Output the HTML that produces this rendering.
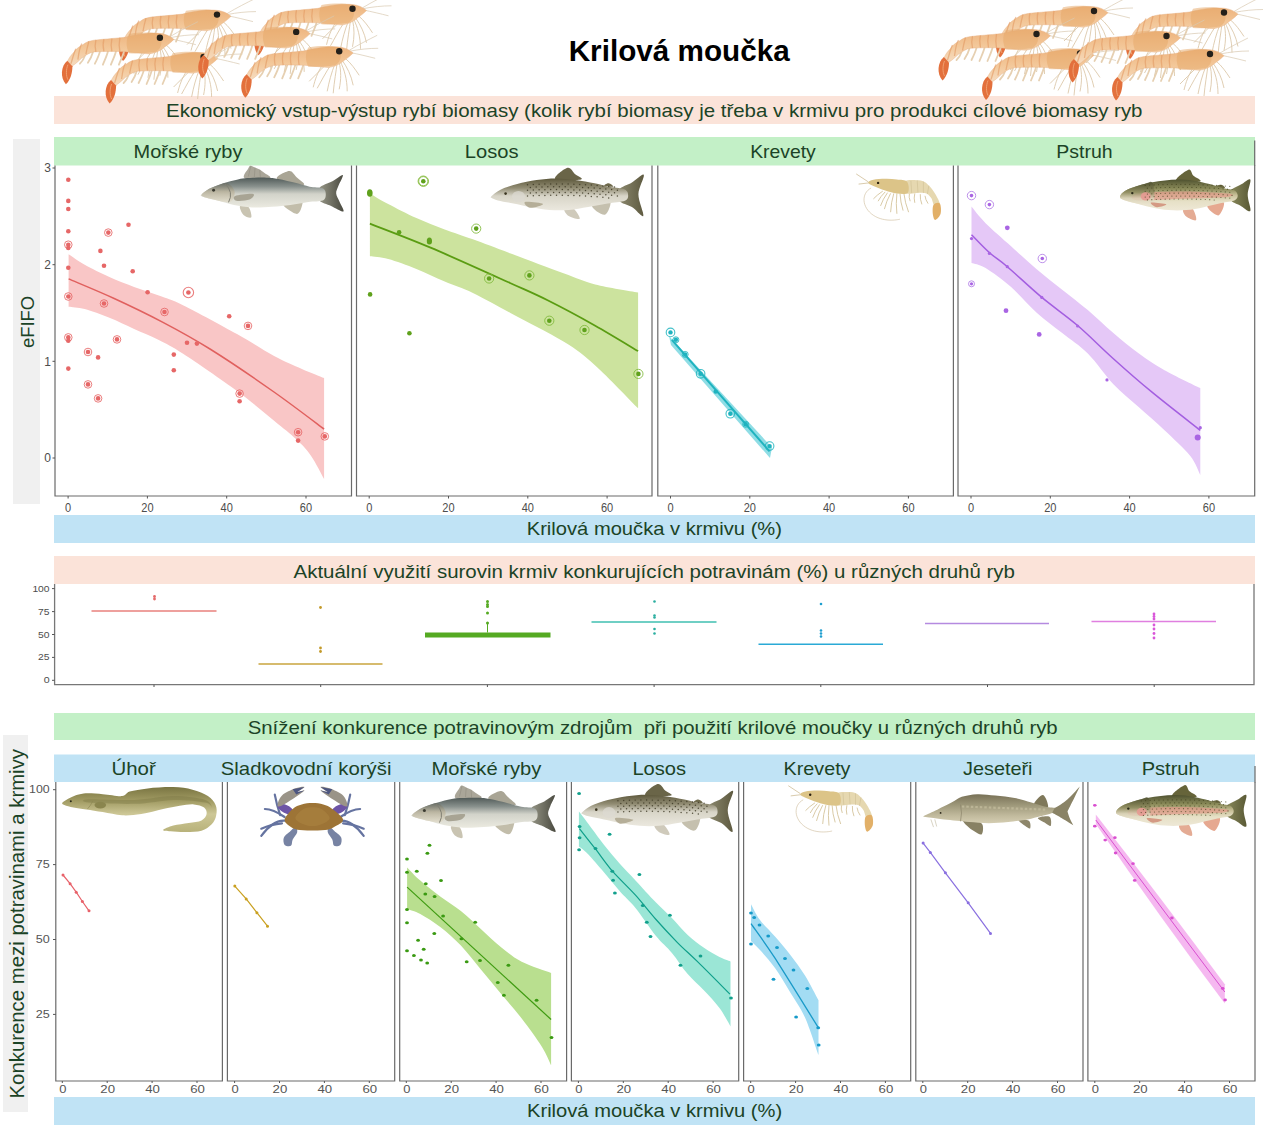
<!DOCTYPE html>
<html><head><meta charset="utf-8">
<style>
html,body{margin:0;padding:0;background:#fff;width:1280px;height:1134px;overflow:hidden}
svg{display:block}
text{font-family:"Liberation Sans",sans-serif}
</style></head><body>
<svg width="1280" height="1134" viewBox="0 0 1280 1134">
<rect x="54" y="96" width="1201" height="28" fill="#fbe3d9"/>
<rect x="54" y="137" width="1201" height="28.5" fill="#c3f0c7"/>
<rect x="13" y="139" width="27" height="365" fill="#f0f0f0"/>
<rect x="54" y="515" width="1201" height="28" fill="#c0e3f5"/>
<rect x="54" y="556" width="1201" height="28" fill="#fbe3d9"/>
<rect x="54" y="713" width="1201" height="27" fill="#c3f0c7"/>
<rect x="54" y="754.5" width="1201" height="27.5" fill="#c0e3f5"/>
<rect x="3" y="735" width="25" height="377" fill="#f0f0f0"/>
<rect x="54" y="1097" width="1201" height="28" fill="#c0e3f5"/>
<g fill="#1b4326">
<text x="568.7" y="61.2" font-size="29.5" font-weight="bold" fill="#000" textLength="221" lengthAdjust="spacingAndGlyphs">Krilová moučka</text>
<text x="166" y="116.6" font-size="18.5" textLength="976.5" lengthAdjust="spacingAndGlyphs">Ekonomický vstup-výstup rybí biomasy (kolik rybí biomasy je třeba v krmivu pro produkci cílové biomasy ryb</text>
<text x="133.6" y="158" font-size="19" textLength="108.8" lengthAdjust="spacingAndGlyphs">Mořské ryby</text>
<text x="464.8" y="158" font-size="19" textLength="53.7" lengthAdjust="spacingAndGlyphs">Losos</text>
<text x="750.2" y="158" font-size="19" textLength="65.6" lengthAdjust="spacingAndGlyphs">Krevety</text>
<text x="1056.3" y="158" font-size="19" textLength="56.3" lengthAdjust="spacingAndGlyphs">Pstruh</text>
<text x="526.7" y="535" font-size="19" textLength="255.3" lengthAdjust="spacingAndGlyphs">Krilová moučka v krmivu (%)</text>
<text x="293.5" y="577.5" font-size="18.5" textLength="721.5" lengthAdjust="spacingAndGlyphs">Aktuální využití surovin krmiv konkurujících potravinám (%) u různých druhů ryb</text>
<text x="247.7" y="733.8" font-size="18.5" textLength="810" lengthAdjust="spacingAndGlyphs" style="white-space:pre">Snížení konkurence potravinovým zdrojům  při použití krilové moučky u různých druhů ryb</text>
<text x="111.5" y="774.8" font-size="19" textLength="44.3" lengthAdjust="spacingAndGlyphs">Úhoř</text>
<text x="220.8" y="774.8" font-size="19" textLength="170.6" lengthAdjust="spacingAndGlyphs">Sladkovodní korýši</text>
<text x="431.6" y="774.8" font-size="19" textLength="109.7" lengthAdjust="spacingAndGlyphs">Mořské ryby</text>
<text x="632.4" y="774.8" font-size="19" textLength="53.7" lengthAdjust="spacingAndGlyphs">Losos</text>
<text x="783.6" y="774.8" font-size="19" textLength="66.9" lengthAdjust="spacingAndGlyphs">Krevety</text>
<text x="963" y="774.8" font-size="19" textLength="69.5" lengthAdjust="spacingAndGlyphs">Jeseteři</text>
<text x="1141.7" y="774.8" font-size="19" textLength="58" lengthAdjust="spacingAndGlyphs">Pstruh</text>
<text x="527" y="1116.8" font-size="19" textLength="255.2" lengthAdjust="spacingAndGlyphs">Krilová moučka v krmivu (%)</text>
<text transform="translate(34,348) rotate(-90)" font-size="18" textLength="52" lengthAdjust="spacingAndGlyphs">eFIFO</text>
<text transform="translate(23.5,1098.5) rotate(-90)" font-size="20" textLength="349.5" lengthAdjust="spacingAndGlyphs">Konkurence mezi potravinami a krmivy</text>
</g>
<g>
<path d="M55,165.5 V496 H351.5 V165.5" fill="none" stroke="#6a6a6a" stroke-width="1.2"/>
<line x1="68.1" y1="496" x2="68.1" y2="498.5" stroke="#555" stroke-width="1"/>
<text x="68.1" y="511.7" font-size="12" fill="#4d4d4d" text-anchor="middle" transform="translate(68.1,0) scale(0.92,1) translate(-68.1,0)">0</text>
<line x1="147.4" y1="496" x2="147.4" y2="498.5" stroke="#555" stroke-width="1"/>
<text x="147.4" y="511.7" font-size="12" fill="#4d4d4d" text-anchor="middle" transform="translate(147.4,0) scale(0.92,1) translate(-147.4,0)">20</text>
<line x1="226.7" y1="496" x2="226.7" y2="498.5" stroke="#555" stroke-width="1"/>
<text x="226.7" y="511.7" font-size="12" fill="#4d4d4d" text-anchor="middle" transform="translate(226.7,0) scale(0.92,1) translate(-226.7,0)">40</text>
<line x1="306.0" y1="496" x2="306.0" y2="498.5" stroke="#555" stroke-width="1"/>
<text x="306.0" y="511.7" font-size="12" fill="#4d4d4d" text-anchor="middle" transform="translate(306.0,0) scale(0.92,1) translate(-306.0,0)">60</text>
<path d="M356.5,165.5 V496 H652 V165.5" fill="none" stroke="#6a6a6a" stroke-width="1.2"/>
<line x1="369.2" y1="496" x2="369.2" y2="498.5" stroke="#555" stroke-width="1"/>
<text x="369.2" y="511.7" font-size="12" fill="#4d4d4d" text-anchor="middle" transform="translate(369.2,0) scale(0.92,1) translate(-369.2,0)">0</text>
<line x1="448.5" y1="496" x2="448.5" y2="498.5" stroke="#555" stroke-width="1"/>
<text x="448.5" y="511.7" font-size="12" fill="#4d4d4d" text-anchor="middle" transform="translate(448.5,0) scale(0.92,1) translate(-448.5,0)">20</text>
<line x1="527.8" y1="496" x2="527.8" y2="498.5" stroke="#555" stroke-width="1"/>
<text x="527.8" y="511.7" font-size="12" fill="#4d4d4d" text-anchor="middle" transform="translate(527.8,0) scale(0.92,1) translate(-527.8,0)">40</text>
<line x1="607.1" y1="496" x2="607.1" y2="498.5" stroke="#555" stroke-width="1"/>
<text x="607.1" y="511.7" font-size="12" fill="#4d4d4d" text-anchor="middle" transform="translate(607.1,0) scale(0.92,1) translate(-607.1,0)">60</text>
<path d="M657.8,165.5 V496 H953.4 V165.5" fill="none" stroke="#6a6a6a" stroke-width="1.2"/>
<line x1="670.5" y1="496" x2="670.5" y2="498.5" stroke="#555" stroke-width="1"/>
<text x="670.5" y="511.7" font-size="12" fill="#4d4d4d" text-anchor="middle" transform="translate(670.5,0) scale(0.92,1) translate(-670.5,0)">0</text>
<line x1="749.8" y1="496" x2="749.8" y2="498.5" stroke="#555" stroke-width="1"/>
<text x="749.8" y="511.7" font-size="12" fill="#4d4d4d" text-anchor="middle" transform="translate(749.8,0) scale(0.92,1) translate(-749.8,0)">20</text>
<line x1="829.1" y1="496" x2="829.1" y2="498.5" stroke="#555" stroke-width="1"/>
<text x="829.1" y="511.7" font-size="12" fill="#4d4d4d" text-anchor="middle" transform="translate(829.1,0) scale(0.92,1) translate(-829.1,0)">40</text>
<line x1="908.4" y1="496" x2="908.4" y2="498.5" stroke="#555" stroke-width="1"/>
<text x="908.4" y="511.7" font-size="12" fill="#4d4d4d" text-anchor="middle" transform="translate(908.4,0) scale(0.92,1) translate(-908.4,0)">60</text>
<path d="M958,165.5 V496 H1254.7 V165.5" fill="none" stroke="#6a6a6a" stroke-width="1.2"/>
<line x1="971.0" y1="496" x2="971.0" y2="498.5" stroke="#555" stroke-width="1"/>
<text x="971.0" y="511.7" font-size="12" fill="#4d4d4d" text-anchor="middle" transform="translate(971.0,0) scale(0.92,1) translate(-971.0,0)">0</text>
<line x1="1050.3" y1="496" x2="1050.3" y2="498.5" stroke="#555" stroke-width="1"/>
<text x="1050.3" y="511.7" font-size="12" fill="#4d4d4d" text-anchor="middle" transform="translate(1050.3,0) scale(0.92,1) translate(-1050.3,0)">20</text>
<line x1="1129.6" y1="496" x2="1129.6" y2="498.5" stroke="#555" stroke-width="1"/>
<text x="1129.6" y="511.7" font-size="12" fill="#4d4d4d" text-anchor="middle" transform="translate(1129.6,0) scale(0.92,1) translate(-1129.6,0)">40</text>
<line x1="1208.9" y1="496" x2="1208.9" y2="498.5" stroke="#555" stroke-width="1"/>
<text x="1208.9" y="511.7" font-size="12" fill="#4d4d4d" text-anchor="middle" transform="translate(1208.9,0) scale(0.92,1) translate(-1208.9,0)">60</text>
<line x1="52.5" y1="458.0" x2="55" y2="458.0" stroke="#555" stroke-width="1"/>
<text x="51" y="462.3" font-size="12" fill="#4d4d4d" text-anchor="end">0</text>
<line x1="52.5" y1="361.3" x2="55" y2="361.3" stroke="#555" stroke-width="1"/>
<text x="51" y="365.6" font-size="12" fill="#4d4d4d" text-anchor="end">1</text>
<line x1="52.5" y1="264.7" x2="55" y2="264.7" stroke="#555" stroke-width="1"/>
<text x="51" y="269.0" font-size="12" fill="#4d4d4d" text-anchor="end">2</text>
<line x1="52.5" y1="168.0" x2="55" y2="168.0" stroke="#555" stroke-width="1"/>
<text x="51" y="172.3" font-size="12" fill="#4d4d4d" text-anchor="end">3</text>
</g>
<path d="M68.6,254.2 C71.3,255.9 77.9,260.9 84.7,264.7 C91.5,268.5 101.2,273.3 109.4,277.0 C117.6,280.7 125.9,283.8 134.1,286.9 C142.3,290.0 150.6,292.5 158.8,295.6 C167.0,298.7 170.5,299.0 183.5,305.4 C196.5,311.8 221.9,325.6 237.0,334.0 C252.1,342.4 263.3,350.2 274.1,356.0 C284.9,361.8 293.6,365.3 301.9,369.0 C310.2,372.7 320.4,376.6 324.1,378.1 L324.1,479.0 C321.9,475.1 315.7,462.5 311.1,455.9 C306.5,449.3 302.5,445.2 296.3,439.3 C290.1,433.4 284.0,428.8 274.1,420.7 C264.2,412.6 252.1,402.1 237.0,391.0 C221.9,379.9 196.5,362.5 183.5,354.0 C170.5,345.5 167.0,344.2 158.8,340.0 C150.6,335.8 142.3,332.6 134.1,328.9 C125.9,325.2 117.6,321.1 109.4,317.8 C101.2,314.5 91.5,311.0 84.7,309.1 C77.9,307.2 71.3,307.1 68.6,306.7 Z" fill="#f9c6c6"/>
<path d="M68.6,278.9 C76.0,282.1 97.4,290.8 113.1,298.0 C128.8,305.2 146.3,313.6 162.5,322.1 C178.7,330.6 191.4,337.4 210.0,349.0 C228.6,360.6 255.0,378.6 274.0,392.0 C293.0,405.4 315.8,422.9 324.1,429.1" fill="none" stroke="#e0605e" stroke-width="1.5"/>
<circle cx="68.3" cy="179.8" r="2.3" fill="#e66767"/>
<circle cx="68.3" cy="200.9" r="2.3" fill="#e66767"/>
<circle cx="68.3" cy="209.0" r="2.3" fill="#e66767"/>
<circle cx="68.3" cy="231.2" r="2.3" fill="#e66767"/>
<circle cx="68.3" cy="244.7" r="2.3" fill="#e66767"/>
<circle cx="68.3" cy="248.0" r="2.3" fill="#e66767"/>
<circle cx="108.3" cy="232.6" r="2.3" fill="#e66767"/>
<circle cx="128.5" cy="224.8" r="2.3" fill="#e66767"/>
<circle cx="100.4" cy="250.9" r="2.3" fill="#e66767"/>
<circle cx="104.0" cy="265.8" r="2.3" fill="#e66767"/>
<circle cx="132.7" cy="271.2" r="2.3" fill="#e66767"/>
<circle cx="68.3" cy="267.8" r="2.3" fill="#e66767"/>
<circle cx="68.3" cy="296.5" r="2.3" fill="#e66767"/>
<circle cx="104.0" cy="303.5" r="2.3" fill="#e66767"/>
<circle cx="147.6" cy="292.3" r="2.3" fill="#e66767"/>
<circle cx="188.4" cy="292.5" r="2.3" fill="#e66767"/>
<circle cx="164.5" cy="312.0" r="2.3" fill="#e66767"/>
<circle cx="229.2" cy="316.2" r="2.3" fill="#e66767"/>
<circle cx="248.0" cy="325.9" r="2.3" fill="#e66767"/>
<circle cx="68.3" cy="337.4" r="2.3" fill="#e66767"/>
<circle cx="68.3" cy="340.8" r="2.3" fill="#e66767"/>
<circle cx="117.0" cy="339.4" r="2.3" fill="#e66767"/>
<circle cx="187.0" cy="342.7" r="2.3" fill="#e66767"/>
<circle cx="196.9" cy="343.6" r="2.3" fill="#e66767"/>
<circle cx="88.0" cy="352.0" r="2.3" fill="#e66767"/>
<circle cx="98.1" cy="357.4" r="2.3" fill="#e66767"/>
<circle cx="173.8" cy="354.6" r="2.3" fill="#e66767"/>
<circle cx="68.3" cy="368.6" r="2.3" fill="#e66767"/>
<circle cx="88.0" cy="384.4" r="2.3" fill="#e66767"/>
<circle cx="173.8" cy="370.3" r="2.3" fill="#e66767"/>
<circle cx="98.1" cy="398.4" r="2.3" fill="#e66767"/>
<circle cx="239.6" cy="393.6" r="2.3" fill="#e66767"/>
<circle cx="239.6" cy="401.2" r="2.3" fill="#e66767"/>
<circle cx="298.1" cy="432.2" r="2.3" fill="#e66767"/>
<circle cx="298.1" cy="440.6" r="2.3" fill="#e66767"/>
<circle cx="324.8" cy="436.4" r="2.3" fill="#e66767"/>
<circle cx="68.3" cy="244.7" r="3.8" fill="none" stroke="#e66767" stroke-width="1.0" opacity="0.85"/>
<circle cx="108.3" cy="232.6" r="3.8" fill="none" stroke="#e66767" stroke-width="1.0" opacity="0.85"/>
<circle cx="68.3" cy="296.5" r="3.8" fill="none" stroke="#e66767" stroke-width="1.0" opacity="0.85"/>
<circle cx="104.0" cy="303.5" r="3.8" fill="none" stroke="#e66767" stroke-width="1.0" opacity="0.85"/>
<circle cx="164.5" cy="312.0" r="3.8" fill="none" stroke="#e66767" stroke-width="1.0" opacity="0.85"/>
<circle cx="248.0" cy="325.9" r="3.8" fill="none" stroke="#e66767" stroke-width="1.0" opacity="0.85"/>
<circle cx="68.3" cy="337.4" r="3.8" fill="none" stroke="#e66767" stroke-width="1.0" opacity="0.85"/>
<circle cx="117.0" cy="339.4" r="3.8" fill="none" stroke="#e66767" stroke-width="1.0" opacity="0.85"/>
<circle cx="88.0" cy="352.0" r="3.8" fill="none" stroke="#e66767" stroke-width="1.0" opacity="0.85"/>
<circle cx="88.0" cy="384.4" r="3.8" fill="none" stroke="#e66767" stroke-width="1.0" opacity="0.85"/>
<circle cx="98.1" cy="398.4" r="3.8" fill="none" stroke="#e66767" stroke-width="1.0" opacity="0.85"/>
<circle cx="239.6" cy="393.6" r="3.8" fill="none" stroke="#e66767" stroke-width="1.0" opacity="0.85"/>
<circle cx="298.1" cy="432.2" r="3.8" fill="none" stroke="#e66767" stroke-width="1.0" opacity="0.85"/>
<circle cx="324.8" cy="436.4" r="3.8" fill="none" stroke="#e66767" stroke-width="1.0" opacity="0.85"/>
<circle cx="188.4" cy="292.5" r="5.2" fill="none" stroke="#e66767" stroke-width="1.1" opacity="0.85"/>
<path d="M369.9,193.4 C372.9,195.2 380.4,199.9 388.2,204.0 C395.9,208.1 407.0,213.9 416.4,218.1 C425.8,222.3 435.3,225.9 444.7,229.4 C454.1,232.9 462.0,235.3 472.9,239.3 C483.8,243.3 494.9,247.5 510.0,253.2 C525.1,258.9 549.3,268.1 563.5,273.3 C577.7,278.5 582.8,281.2 595.2,284.4 C607.6,287.6 631.0,291.1 638.1,292.4 L638.1,408.3 C631.0,401.1 607.6,376.5 595.2,365.4 C582.8,354.3 577.7,350.4 563.5,341.6 C549.3,332.8 525.1,320.8 510.0,312.7 C494.9,304.6 483.8,298.1 472.9,292.9 C462.0,287.7 454.1,285.6 444.7,281.6 C435.3,277.6 425.8,272.7 416.4,268.9 C407.0,265.1 395.9,261.1 388.2,259.0 C380.4,256.9 372.9,256.7 369.9,256.2 Z" fill="#cce39e"/>
<path d="M369.9,223.7 C380.0,227.7 407.2,237.8 430.6,247.7 C454.0,257.6 490.5,274.2 510.0,283.0 C529.5,291.8 533.4,293.2 547.6,300.3 C561.8,307.4 580.1,317.2 595.2,325.7 C610.3,334.2 631.0,346.9 638.1,351.1" fill="none" stroke="#5a9c12" stroke-width="1.8"/>
<circle cx="369.6" cy="193.0" r="2.3" fill="#5fa11c"/>
<circle cx="423.3" cy="181.2" r="2.3" fill="#5fa11c"/>
<circle cx="399.1" cy="232.3" r="2.3" fill="#5fa11c"/>
<circle cx="429.4" cy="241.5" r="2.3" fill="#5fa11c"/>
<circle cx="476.2" cy="228.6" r="2.3" fill="#5fa11c"/>
<circle cx="370.1" cy="294.4" r="2.3" fill="#5fa11c"/>
<circle cx="409.4" cy="333.3" r="2.3" fill="#5fa11c"/>
<circle cx="489.1" cy="278.5" r="2.3" fill="#5fa11c"/>
<circle cx="529.4" cy="275.4" r="2.3" fill="#5fa11c"/>
<circle cx="549.3" cy="320.7" r="2.3" fill="#5fa11c"/>
<circle cx="584.5" cy="330.0" r="2.3" fill="#5fa11c"/>
<circle cx="638.4" cy="373.9" r="2.3" fill="#5fa11c"/>
<ellipse cx="369.8" cy="193" rx="2.8" ry="3.8" fill="#5fa11c"/>
<ellipse cx="429.4" cy="241" rx="2.6" ry="3.6" fill="#5fa11c"/>
<circle cx="423.3" cy="181.2" r="4.6" fill="none" stroke="#7fb83a" stroke-width="1.0" opacity="0.85"/>
<circle cx="476.2" cy="228.6" r="4.6" fill="none" stroke="#7fb83a" stroke-width="1.0" opacity="0.85"/>
<circle cx="489.1" cy="278.5" r="4.6" fill="none" stroke="#7fb83a" stroke-width="1.0" opacity="0.85"/>
<circle cx="529.4" cy="275.4" r="4.6" fill="none" stroke="#7fb83a" stroke-width="1.0" opacity="0.85"/>
<circle cx="549.3" cy="320.7" r="4.6" fill="none" stroke="#7fb83a" stroke-width="1.0" opacity="0.85"/>
<circle cx="584.5" cy="330.0" r="4.6" fill="none" stroke="#7fb83a" stroke-width="1.0" opacity="0.85"/>
<circle cx="638.4" cy="373.9" r="4.6" fill="none" stroke="#7fb83a" stroke-width="1.0" opacity="0.85"/>
<circle cx="423.3" cy="181.2" r="5.2" fill="none" stroke="#8fc04a" stroke-width="1"/>
<path d="M669,336 L772,447.5 L770,458 L671,345 Z" fill="#8fdde5"/>
<path d="M671.9,339.8 L769.6,451.4" fill="none" stroke="#1fb3bf" stroke-width="2.0"/>
<circle cx="670.5" cy="332.4" r="2.2" fill="#1fb3bf"/>
<circle cx="675.9" cy="339.8" r="2.2" fill="#1fb3bf"/>
<circle cx="685.2" cy="354.4" r="2.2" fill="#1fb3bf"/>
<circle cx="700.6" cy="373.8" r="2.2" fill="#1fb3bf"/>
<circle cx="715.7" cy="391.6" r="2.2" fill="#1fb3bf"/>
<circle cx="730.3" cy="413.7" r="2.2" fill="#1fb3bf"/>
<circle cx="745.7" cy="424.3" r="2.2" fill="#1fb3bf"/>
<circle cx="769.6" cy="446.1" r="2.2" fill="#1fb3bf"/>
<circle cx="670.5" cy="332.4" r="4.3" fill="none" stroke="#22b5c0" stroke-width="1.1" opacity="0.85"/>
<circle cx="700.6" cy="373.8" r="4.3" fill="none" stroke="#22b5c0" stroke-width="1.1" opacity="0.85"/>
<circle cx="730.3" cy="413.7" r="4.3" fill="none" stroke="#22b5c0" stroke-width="1.1" opacity="0.85"/>
<circle cx="769.6" cy="446.1" r="4.3" fill="none" stroke="#22b5c0" stroke-width="1.1" opacity="0.85"/>
<circle cx="675.9" cy="339.8" r="3.0" fill="none" stroke="#22b5c0" stroke-width="1.0" opacity="0.85"/>
<circle cx="685.2" cy="354.4" r="3.0" fill="none" stroke="#22b5c0" stroke-width="1.0" opacity="0.85"/>
<circle cx="745.7" cy="424.3" r="3.0" fill="none" stroke="#22b5c0" stroke-width="1.0" opacity="0.85"/>
<path d="M971.5,206.6 C973.8,209.4 979.0,216.6 985.6,223.2 C992.2,229.8 1002.6,238.6 1011.1,246.2 C1019.6,253.9 1028.2,262.0 1036.7,269.2 C1045.2,276.5 1053.7,282.9 1062.2,289.7 C1070.8,296.5 1079.3,302.9 1087.8,310.1 C1096.3,317.4 1104.9,325.9 1113.4,333.1 C1121.9,340.4 1130.4,347.4 1138.9,353.6 C1147.5,359.8 1154.3,364.5 1164.5,370.2 C1174.7,376.0 1194.3,385.1 1200.3,388.1 L1200.3,475.0 C1198.6,471.8 1196.0,463.3 1190.1,455.8 C1184.1,448.4 1173.0,438.4 1164.5,430.3 C1156.0,422.2 1147.5,414.9 1138.9,407.3 C1130.4,399.6 1121.9,393.2 1113.4,384.3 C1104.9,375.3 1096.3,362.1 1087.8,353.6 C1079.3,345.1 1070.8,340.0 1062.2,333.1 C1053.7,326.3 1045.2,320.4 1036.7,312.7 C1028.2,305.0 1019.6,294.6 1011.1,287.1 C1002.6,279.7 992.2,272.0 985.6,268.0 C979.0,263.9 973.8,263.7 971.5,262.9 Z" fill="#e5c8f7"/>
<path d="M971.5,234.7 C974.5,237.7 983.4,247.3 989.4,252.6 C995.4,258.0 998.6,259.2 1007.3,266.7 C1016.0,274.1 1030.1,287.6 1041.8,297.4 C1053.5,307.2 1065.7,315.3 1077.6,325.5 C1089.5,335.7 1101.0,347.6 1113.4,358.7 C1125.7,369.8 1137.2,380.0 1151.7,391.9 C1166.2,403.9 1192.2,423.9 1200.3,430.3" fill="none" stroke="#a35ee0" stroke-width="1.5"/>
<circle cx="971.5" cy="238.6" r="1.6" fill="#a965e3"/>
<circle cx="989.4" cy="253.4" r="1.6" fill="#a965e3"/>
<circle cx="1007.3" cy="266.7" r="1.6" fill="#a965e3"/>
<circle cx="1041.8" cy="297.4" r="1.6" fill="#a965e3"/>
<circle cx="1077.6" cy="326.0" r="1.6" fill="#a965e3"/>
<circle cx="1107.0" cy="379.9" r="1.6" fill="#a965e3"/>
<circle cx="1200.3" cy="427.7" r="1.6" fill="#a965e3"/>
<circle cx="971.5" cy="195.6" r="1.8" fill="#a965e3"/>
<circle cx="989.4" cy="204.6" r="1.8" fill="#a965e3"/>
<circle cx="1042.3" cy="258.5" r="1.8" fill="#a965e3"/>
<circle cx="971.5" cy="195.6" r="4.2" fill="none" stroke="#b27ce6" stroke-width="1.0" opacity="0.85"/>
<circle cx="989.4" cy="204.6" r="4.2" fill="none" stroke="#b27ce6" stroke-width="1.0" opacity="0.85"/>
<circle cx="1042.3" cy="258.5" r="4.2" fill="none" stroke="#b27ce6" stroke-width="1.0" opacity="0.85"/>
<circle cx="971.5" cy="283.8" r="1.6" fill="#a965e3"/>
<circle cx="971.5" cy="283.8" r="3.0" fill="none" stroke="#b27ce6" stroke-width="1.0" opacity="0.85"/>
<circle cx="1007.3" cy="227.8" r="2.4" fill="#a965e3"/>
<circle cx="1006.0" cy="310.7" r="2.4" fill="#a965e3"/>
<circle cx="1039.2" cy="334.4" r="2.4" fill="#a965e3"/>
<circle cx="1197.7" cy="437.4" r="3.0" fill="#a965e3"/>
<g>
<path d="M54.6,584 V684.7 H1254 V584" fill="none" stroke="#777" stroke-width="1.3"/>
<line x1="52" y1="680.3" x2="54.6" y2="680.3" stroke="#555" stroke-width="1"/>
<text x="43.7" y="683.3" font-size="8.6" fill="#4d4d4d" textLength="5.9" lengthAdjust="spacingAndGlyphs">0</text>
<line x1="52" y1="657.4" x2="54.6" y2="657.4" stroke="#555" stroke-width="1"/>
<text x="38.1" y="660.4" font-size="8.6" fill="#4d4d4d" textLength="11.5" lengthAdjust="spacingAndGlyphs">25</text>
<line x1="52" y1="634.5" x2="54.6" y2="634.5" stroke="#555" stroke-width="1"/>
<text x="38.1" y="637.5" font-size="8.6" fill="#4d4d4d" textLength="11.5" lengthAdjust="spacingAndGlyphs">50</text>
<line x1="52" y1="611.6" x2="54.6" y2="611.6" stroke="#555" stroke-width="1"/>
<text x="38.1" y="614.6" font-size="8.6" fill="#4d4d4d" textLength="11.5" lengthAdjust="spacingAndGlyphs">75</text>
<line x1="52" y1="588.6" x2="54.6" y2="588.6" stroke="#555" stroke-width="1"/>
<text x="32.4" y="591.6" font-size="8.6" fill="#4d4d4d" textLength="17.2" lengthAdjust="spacingAndGlyphs">100</text>
<line x1="154.0" y1="684.7" x2="154.0" y2="687" stroke="#555" stroke-width="1"/>
<line x1="320.7" y1="684.7" x2="320.7" y2="687" stroke="#555" stroke-width="1"/>
<line x1="487.4" y1="684.7" x2="487.4" y2="687" stroke="#555" stroke-width="1"/>
<line x1="654.1" y1="684.7" x2="654.1" y2="687" stroke="#555" stroke-width="1"/>
<line x1="820.8" y1="684.7" x2="820.8" y2="687" stroke="#555" stroke-width="1"/>
<line x1="987.5" y1="684.7" x2="987.5" y2="687" stroke="#555" stroke-width="1"/>
<line x1="1154.2" y1="684.7" x2="1154.2" y2="687" stroke="#555" stroke-width="1"/>
<line x1="91.5" y1="611" x2="216.5" y2="611" stroke="#e8817c" stroke-width="1.5"/>
<circle cx="154.5" cy="596.5" r="1.4" fill="#e46a6a"/>
<circle cx="154.5" cy="599.0" r="1.4" fill="#e46a6a"/>
<line x1="258.5" y1="664" x2="382.5" y2="664" stroke="#c9a43e" stroke-width="1.5"/>
<circle cx="320.5" cy="607.5" r="1.4" fill="#c39a2a"/>
<circle cx="320.5" cy="648.0" r="1.4" fill="#c39a2a"/>
<circle cx="320.5" cy="651.5" r="1.4" fill="#c39a2a"/>
<rect x="425" y="632.5" width="125.5" height="5" fill="#55aa22"/>
<line x1="487.5" y1="624" x2="487.5" y2="632.5" stroke="#55aa22" stroke-width="1"/>
<circle cx="487.5" cy="601.5" r="1.5" fill="#55aa22"/>
<circle cx="487.5" cy="604.5" r="1.5" fill="#55aa22"/>
<circle cx="487.5" cy="606.5" r="1.5" fill="#55aa22"/>
<circle cx="487.5" cy="613.0" r="1.5" fill="#55aa22"/>
<circle cx="487.5" cy="623.0" r="1.5" fill="#55aa22"/>
<line x1="591.5" y1="622" x2="716.5" y2="622" stroke="#3fbfb0" stroke-width="1.5"/>
<circle cx="654.5" cy="601.5" r="1.3" fill="#2aaea0"/>
<circle cx="654.5" cy="615.5" r="1.3" fill="#2aaea0"/>
<circle cx="654.5" cy="617.5" r="1.3" fill="#2aaea0"/>
<circle cx="654.5" cy="629.0" r="1.3" fill="#2aaea0"/>
<circle cx="654.5" cy="633.5" r="1.3" fill="#2aaea0"/>
<line x1="758.5" y1="644.2" x2="883" y2="644.2" stroke="#2aaad6" stroke-width="1.5"/>
<circle cx="821.0" cy="604.0" r="1.3" fill="#1f9fcf"/>
<circle cx="821.0" cy="630.5" r="1.3" fill="#1f9fcf"/>
<circle cx="821.0" cy="633.5" r="1.3" fill="#1f9fcf"/>
<circle cx="821.0" cy="636.5" r="1.3" fill="#1f9fcf"/>
<line x1="925" y1="623.5" x2="1049" y2="623.5" stroke="#b58ae0" stroke-width="1.5"/>
<line x1="1091.5" y1="621.5" x2="1216" y2="621.5" stroke="#e07fe0" stroke-width="1.5"/>
<circle cx="1154.0" cy="614.0" r="1.4" fill="#d957d9"/>
<circle cx="1154.0" cy="616.5" r="1.4" fill="#d957d9"/>
<circle cx="1154.0" cy="619.0" r="1.4" fill="#d957d9"/>
<circle cx="1154.0" cy="625.0" r="1.4" fill="#d957d9"/>
<circle cx="1154.0" cy="629.0" r="1.4" fill="#d957d9"/>
<circle cx="1154.0" cy="633.5" r="1.4" fill="#d957d9"/>
<circle cx="1154.0" cy="638.0" r="1.4" fill="#d957d9"/>
</g>
<g>
<path d="M55.8,782 V1081 H222.4 V782" fill="none" stroke="#6a6a6a" stroke-width="1.2"/>
<line x1="62.3" y1="1081" x2="62.3" y2="1083" stroke="#555" stroke-width="1"/>
<text x="59.2" y="1092.5" font-size="11" fill="#555" textLength="7.2" lengthAdjust="spacingAndGlyphs">0</text>
<line x1="107.2" y1="1081" x2="107.2" y2="1083" stroke="#555" stroke-width="1"/>
<text x="100.3" y="1092.5" font-size="11" fill="#555" textLength="14.7" lengthAdjust="spacingAndGlyphs">20</text>
<line x1="152.1" y1="1081" x2="152.1" y2="1083" stroke="#555" stroke-width="1"/>
<text x="145.2" y="1092.5" font-size="11" fill="#555" textLength="14.7" lengthAdjust="spacingAndGlyphs">40</text>
<line x1="197.0" y1="1081" x2="197.0" y2="1083" stroke="#555" stroke-width="1"/>
<text x="190.2" y="1092.5" font-size="11" fill="#555" textLength="14.7" lengthAdjust="spacingAndGlyphs">60</text>
<path d="M227.4,782 V1081 H394.7 V782" fill="none" stroke="#6a6a6a" stroke-width="1.2"/>
<line x1="234.6" y1="1081" x2="234.6" y2="1083" stroke="#555" stroke-width="1"/>
<text x="231.5" y="1092.5" font-size="11" fill="#555" textLength="7.2" lengthAdjust="spacingAndGlyphs">0</text>
<line x1="279.5" y1="1081" x2="279.5" y2="1083" stroke="#555" stroke-width="1"/>
<text x="272.6" y="1092.5" font-size="11" fill="#555" textLength="14.7" lengthAdjust="spacingAndGlyphs">20</text>
<line x1="324.4" y1="1081" x2="324.4" y2="1083" stroke="#555" stroke-width="1"/>
<text x="317.5" y="1092.5" font-size="11" fill="#555" textLength="14.7" lengthAdjust="spacingAndGlyphs">40</text>
<line x1="369.3" y1="1081" x2="369.3" y2="1083" stroke="#555" stroke-width="1"/>
<text x="362.4" y="1092.5" font-size="11" fill="#555" textLength="14.7" lengthAdjust="spacingAndGlyphs">60</text>
<path d="M399.7,782 V1081 H566.6 V782" fill="none" stroke="#6a6a6a" stroke-width="1.2"/>
<line x1="406.3" y1="1081" x2="406.3" y2="1083" stroke="#555" stroke-width="1"/>
<text x="403.2" y="1092.5" font-size="11" fill="#555" textLength="7.2" lengthAdjust="spacingAndGlyphs">0</text>
<line x1="451.2" y1="1081" x2="451.2" y2="1083" stroke="#555" stroke-width="1"/>
<text x="444.3" y="1092.5" font-size="11" fill="#555" textLength="14.7" lengthAdjust="spacingAndGlyphs">20</text>
<line x1="496.1" y1="1081" x2="496.1" y2="1083" stroke="#555" stroke-width="1"/>
<text x="489.2" y="1092.5" font-size="11" fill="#555" textLength="14.7" lengthAdjust="spacingAndGlyphs">40</text>
<line x1="541.0" y1="1081" x2="541.0" y2="1083" stroke="#555" stroke-width="1"/>
<text x="534.1" y="1092.5" font-size="11" fill="#555" textLength="14.7" lengthAdjust="spacingAndGlyphs">60</text>
<path d="M571.4,782 V1081 H738.7 V782" fill="none" stroke="#6a6a6a" stroke-width="1.2"/>
<line x1="578.4" y1="1081" x2="578.4" y2="1083" stroke="#555" stroke-width="1"/>
<text x="575.3" y="1092.5" font-size="11" fill="#555" textLength="7.2" lengthAdjust="spacingAndGlyphs">0</text>
<line x1="623.3" y1="1081" x2="623.3" y2="1083" stroke="#555" stroke-width="1"/>
<text x="616.4" y="1092.5" font-size="11" fill="#555" textLength="14.7" lengthAdjust="spacingAndGlyphs">20</text>
<line x1="668.2" y1="1081" x2="668.2" y2="1083" stroke="#555" stroke-width="1"/>
<text x="661.3" y="1092.5" font-size="11" fill="#555" textLength="14.7" lengthAdjust="spacingAndGlyphs">40</text>
<line x1="713.1" y1="1081" x2="713.1" y2="1083" stroke="#555" stroke-width="1"/>
<text x="706.2" y="1092.5" font-size="11" fill="#555" textLength="14.7" lengthAdjust="spacingAndGlyphs">60</text>
<path d="M743.6,782 V1081 H910.7 V782" fill="none" stroke="#6a6a6a" stroke-width="1.2"/>
<line x1="750.7" y1="1081" x2="750.7" y2="1083" stroke="#555" stroke-width="1"/>
<text x="747.6" y="1092.5" font-size="11" fill="#555" textLength="7.2" lengthAdjust="spacingAndGlyphs">0</text>
<line x1="795.6" y1="1081" x2="795.6" y2="1083" stroke="#555" stroke-width="1"/>
<text x="788.8" y="1092.5" font-size="11" fill="#555" textLength="14.7" lengthAdjust="spacingAndGlyphs">20</text>
<line x1="840.5" y1="1081" x2="840.5" y2="1083" stroke="#555" stroke-width="1"/>
<text x="833.6" y="1092.5" font-size="11" fill="#555" textLength="14.7" lengthAdjust="spacingAndGlyphs">40</text>
<line x1="885.4" y1="1081" x2="885.4" y2="1083" stroke="#555" stroke-width="1"/>
<text x="878.6" y="1092.5" font-size="11" fill="#555" textLength="14.7" lengthAdjust="spacingAndGlyphs">60</text>
<path d="M915.8,782 V1081 H1083 V782" fill="none" stroke="#6a6a6a" stroke-width="1.2"/>
<line x1="922.8" y1="1081" x2="922.8" y2="1083" stroke="#555" stroke-width="1"/>
<text x="919.7" y="1092.5" font-size="11" fill="#555" textLength="7.2" lengthAdjust="spacingAndGlyphs">0</text>
<line x1="967.7" y1="1081" x2="967.7" y2="1083" stroke="#555" stroke-width="1"/>
<text x="960.8" y="1092.5" font-size="11" fill="#555" textLength="14.7" lengthAdjust="spacingAndGlyphs">20</text>
<line x1="1012.6" y1="1081" x2="1012.6" y2="1083" stroke="#555" stroke-width="1"/>
<text x="1005.7" y="1092.5" font-size="11" fill="#555" textLength="14.7" lengthAdjust="spacingAndGlyphs">40</text>
<line x1="1057.5" y1="1081" x2="1057.5" y2="1083" stroke="#555" stroke-width="1"/>
<text x="1050.7" y="1092.5" font-size="11" fill="#555" textLength="14.7" lengthAdjust="spacingAndGlyphs">60</text>
<path d="M1087.9,782 V1081 H1255 V782" fill="none" stroke="#6a6a6a" stroke-width="1.2"/>
<line x1="1094.8" y1="1081" x2="1094.8" y2="1083" stroke="#555" stroke-width="1"/>
<text x="1091.7" y="1092.5" font-size="11" fill="#555" textLength="7.2" lengthAdjust="spacingAndGlyphs">0</text>
<line x1="1139.7" y1="1081" x2="1139.7" y2="1083" stroke="#555" stroke-width="1"/>
<text x="1132.9" y="1092.5" font-size="11" fill="#555" textLength="14.7" lengthAdjust="spacingAndGlyphs">20</text>
<line x1="1184.6" y1="1081" x2="1184.6" y2="1083" stroke="#555" stroke-width="1"/>
<text x="1177.8" y="1092.5" font-size="11" fill="#555" textLength="14.7" lengthAdjust="spacingAndGlyphs">40</text>
<line x1="1229.5" y1="1081" x2="1229.5" y2="1083" stroke="#555" stroke-width="1"/>
<text x="1222.7" y="1092.5" font-size="11" fill="#555" textLength="14.7" lengthAdjust="spacingAndGlyphs">60</text>
<line x1="53" y1="1014.4" x2="55.8" y2="1014.4" stroke="#555" stroke-width="1"/>
<text x="35.7" y="1018.0" font-size="10.5" fill="#555" textLength="14.0" lengthAdjust="spacingAndGlyphs">25</text>
<line x1="53" y1="939.5" x2="55.8" y2="939.5" stroke="#555" stroke-width="1"/>
<text x="35.7" y="943.1" font-size="10.5" fill="#555" textLength="14.0" lengthAdjust="spacingAndGlyphs">50</text>
<line x1="53" y1="864.6" x2="55.8" y2="864.6" stroke="#555" stroke-width="1"/>
<text x="35.7" y="868.2" font-size="10.5" fill="#555" textLength="14.0" lengthAdjust="spacingAndGlyphs">75</text>
<line x1="53" y1="789.7" x2="55.8" y2="789.7" stroke="#555" stroke-width="1"/>
<text x="29.1" y="793.3" font-size="10.5" fill="#555" textLength="20.6" lengthAdjust="spacingAndGlyphs">100</text>
</g>
<polyline points="63.0,875.0 70.1,883.7 76.2,892.2 82.4,901.5 89.0,910.8" fill="none" stroke="#e8626a" stroke-width="1.2"/>
<circle cx="63.0" cy="875.0" r="1.5" fill="#e8626a"/>
<circle cx="70.1" cy="883.7" r="1.5" fill="#e8626a"/>
<circle cx="76.2" cy="892.2" r="1.5" fill="#e8626a"/>
<circle cx="82.4" cy="901.5" r="1.5" fill="#e8626a"/>
<circle cx="89.0" cy="910.8" r="1.5" fill="#e8626a"/>
<polyline points="234.8,886.1 246.2,898.9 256.9,912.7 267.5,926.2" fill="none" stroke="#c9a020" stroke-width="1.2"/>
<circle cx="234.8" cy="886.1" r="1.5" fill="#c9a020"/>
<circle cx="246.2" cy="898.9" r="1.5" fill="#c9a020"/>
<circle cx="256.9" cy="912.7" r="1.5" fill="#c9a020"/>
<circle cx="267.5" cy="926.2" r="1.5" fill="#c9a020"/>
<path d="M407.1,867.4 C409.3,869.6 414.7,875.7 420.3,880.6 C425.9,885.5 433.8,891.7 440.6,896.8 C447.3,901.9 454.1,905.6 460.9,911.0 C467.6,916.4 474.4,923.2 481.1,929.2 C487.9,935.3 494.7,942.1 501.4,947.5 C508.2,952.9 513.4,957.5 521.7,961.7 C530.0,965.9 546.2,971.0 551.1,972.9 L551.1,1065.2 C549.6,1062.1 546.9,1054.7 542.0,1046.9 C537.1,1039.1 528.5,1027.3 521.7,1018.5 C514.9,1009.7 508.2,1002.3 501.4,994.2 C494.7,986.0 487.9,977.9 481.1,969.8 C474.4,961.7 467.6,952.6 460.9,945.5 C454.1,938.4 447.3,932.5 440.6,927.2 C433.8,922.0 425.9,917.1 420.3,914.0 C414.7,911.0 409.3,909.8 407.1,909.0 Z" fill="#b9df8f"/>
<path d="M407.1,887.1 L551.1,1019.5" fill="none" stroke="#3d9a10" stroke-width="1.2"/>
<ellipse cx="429.5" cy="845.2" rx="1.9" ry="1.5" fill="#3a9a12"/>
<ellipse cx="427.4" cy="853.2" rx="1.9" ry="1.5" fill="#3a9a12"/>
<ellipse cx="407.0" cy="859.0" rx="1.9" ry="1.5" fill="#3a9a12"/>
<ellipse cx="407.0" cy="872.3" rx="1.9" ry="1.5" fill="#3a9a12"/>
<ellipse cx="416.8" cy="871.2" rx="1.9" ry="1.5" fill="#3a9a12"/>
<ellipse cx="425.8" cy="883.7" rx="1.9" ry="1.5" fill="#3a9a12"/>
<ellipse cx="441.0" cy="880.5" rx="1.9" ry="1.5" fill="#3a9a12"/>
<ellipse cx="425.3" cy="894.1" rx="1.9" ry="1.5" fill="#3a9a12"/>
<ellipse cx="434.6" cy="896.5" rx="1.9" ry="1.5" fill="#3a9a12"/>
<ellipse cx="407.0" cy="909.5" rx="1.9" ry="1.5" fill="#3a9a12"/>
<ellipse cx="443.1" cy="916.1" rx="1.9" ry="1.5" fill="#3a9a12"/>
<ellipse cx="407.0" cy="922.8" rx="1.9" ry="1.5" fill="#3a9a12"/>
<ellipse cx="475.2" cy="922.2" rx="1.9" ry="1.5" fill="#3a9a12"/>
<ellipse cx="434.3" cy="933.4" rx="1.9" ry="1.5" fill="#3a9a12"/>
<ellipse cx="418.1" cy="940.3" rx="1.9" ry="1.5" fill="#3a9a12"/>
<ellipse cx="461.4" cy="938.7" rx="1.9" ry="1.5" fill="#3a9a12"/>
<ellipse cx="407.0" cy="950.7" rx="1.9" ry="1.5" fill="#3a9a12"/>
<ellipse cx="423.7" cy="949.3" rx="1.9" ry="1.5" fill="#3a9a12"/>
<ellipse cx="413.9" cy="955.4" rx="1.9" ry="1.5" fill="#3a9a12"/>
<ellipse cx="421.0" cy="960.0" rx="1.9" ry="1.5" fill="#3a9a12"/>
<ellipse cx="427.2" cy="963.1" rx="1.9" ry="1.5" fill="#3a9a12"/>
<ellipse cx="466.7" cy="961.8" rx="1.9" ry="1.5" fill="#3a9a12"/>
<ellipse cx="480.0" cy="960.5" rx="1.9" ry="1.5" fill="#3a9a12"/>
<ellipse cx="508.4" cy="965.3" rx="1.9" ry="1.5" fill="#3a9a12"/>
<ellipse cx="497.8" cy="982.5" rx="1.9" ry="1.5" fill="#3a9a12"/>
<ellipse cx="503.9" cy="995.3" rx="1.9" ry="1.5" fill="#3a9a12"/>
<ellipse cx="536.6" cy="1000.3" rx="1.9" ry="1.5" fill="#3a9a12"/>
<ellipse cx="551.5" cy="1037.5" rx="1.9" ry="1.5" fill="#3a9a12"/>
<path d="M578.9,811.6 C580.4,813.5 583.8,817.8 587.9,823.3 C592.0,828.8 598.4,837.7 603.7,844.4 C609.0,851.1 614.3,857.5 619.6,863.5 C624.9,869.5 629.4,873.9 635.5,880.4 C641.6,886.9 649.9,896.2 656.0,902.5 C662.1,908.8 666.6,912.6 671.9,918.0 C677.2,923.4 682.4,930.0 687.7,934.9 C693.0,939.8 698.3,943.9 703.6,947.6 C708.9,951.3 715.0,954.8 719.5,957.1 C724.0,959.4 728.7,960.7 730.5,961.4 L730.5,1026.4 C728.7,1023.3 724.0,1014.1 719.5,1008.0 C715.0,1001.9 708.9,995.6 703.6,990.0 C698.3,984.4 693.0,980.3 687.7,974.1 C682.4,967.9 677.2,959.2 671.9,952.9 C666.6,946.5 662.1,943.5 656.0,936.0 C649.9,928.5 641.6,915.5 635.5,908.0 C629.4,900.5 624.9,897.0 619.6,891.0 C614.3,885.0 609.0,878.2 603.7,872.0 C598.4,865.8 592.0,858.2 587.9,854.0 C583.8,849.8 580.4,847.8 578.9,846.6 Z" fill="#9be6d6"/>
<path d="M579.4,828.6 C582.0,832.0 589.8,841.7 595.3,848.7 C600.8,855.8 605.5,863.1 612.2,870.9 C618.9,878.6 628.2,887.1 635.5,895.2 C642.8,903.3 649.0,911.6 656.0,919.5 C663.0,927.4 670.2,935.1 677.2,942.3 C684.2,949.4 689.5,953.8 698.3,962.4 C707.1,971.0 724.7,988.9 730.0,994.2" fill="none" stroke="#0f9f8a" stroke-width="1.2"/>
<ellipse cx="579.1" cy="793.4" rx="1.9" ry="1.5" fill="#12a08c"/>
<ellipse cx="579.6" cy="826.6" rx="1.9" ry="1.5" fill="#12a08c"/>
<ellipse cx="579.6" cy="837.8" rx="1.9" ry="1.5" fill="#12a08c"/>
<ellipse cx="579.1" cy="849.7" rx="1.9" ry="1.5" fill="#12a08c"/>
<ellipse cx="609.6" cy="834.3" rx="1.9" ry="1.5" fill="#12a08c"/>
<ellipse cx="595.5" cy="848.4" rx="1.9" ry="1.5" fill="#12a08c"/>
<ellipse cx="612.3" cy="871.2" rx="1.9" ry="1.5" fill="#12a08c"/>
<ellipse cx="613.1" cy="880.3" rx="1.9" ry="1.5" fill="#12a08c"/>
<ellipse cx="614.9" cy="893.0" rx="1.9" ry="1.5" fill="#12a08c"/>
<ellipse cx="639.4" cy="874.4" rx="1.9" ry="1.5" fill="#12a08c"/>
<ellipse cx="642.8" cy="905.5" rx="1.9" ry="1.5" fill="#12a08c"/>
<ellipse cx="646.8" cy="922.2" rx="1.9" ry="1.5" fill="#12a08c"/>
<ellipse cx="650.5" cy="936.6" rx="1.9" ry="1.5" fill="#12a08c"/>
<ellipse cx="669.9" cy="915.3" rx="1.9" ry="1.5" fill="#12a08c"/>
<ellipse cx="680.5" cy="965.3" rx="1.9" ry="1.5" fill="#12a08c"/>
<ellipse cx="700.5" cy="956.0" rx="1.9" ry="1.5" fill="#12a08c"/>
<ellipse cx="731.0" cy="997.9" rx="1.9" ry="1.5" fill="#12a08c"/>
<path d="M751.0,904.2 C752.5,906.9 756.0,914.6 760.0,920.0 C764.0,925.4 770.0,930.7 775.0,936.5 C780.0,942.2 785.0,948.0 790.0,954.5 C795.0,961.0 800.2,967.8 805.0,975.5 C809.7,983.1 816.2,996.1 818.5,1000.2 L818.5,1054.9 C816.2,1048.7 809.7,1027.9 805.0,1017.4 C800.2,1006.9 795.0,1000.2 790.0,991.9 C785.0,983.7 780.0,975.0 775.0,968.0 C770.0,961.0 764.0,954.5 760.0,950.0 C756.0,945.5 752.5,942.5 751.0,941.0 Z" fill="#a3dcf3"/>
<path d="M751.0,923.7 C755.0,929.5 763.7,940.8 775.0,958.2 C786.2,975.6 811.2,1016.3 818.5,1027.9" fill="none" stroke="#1a9ac8" stroke-width="1.3"/>
<ellipse cx="751.0" cy="912.9" rx="1.9" ry="1.5" fill="#169ac9"/>
<ellipse cx="754.2" cy="917.5" rx="1.9" ry="1.5" fill="#169ac9"/>
<ellipse cx="759.5" cy="924.9" rx="1.9" ry="1.5" fill="#169ac9"/>
<ellipse cx="768.2" cy="936.1" rx="1.9" ry="1.5" fill="#169ac9"/>
<ellipse cx="777.0" cy="947.5" rx="1.9" ry="1.5" fill="#169ac9"/>
<ellipse cx="785.0" cy="958.6" rx="1.9" ry="1.5" fill="#169ac9"/>
<ellipse cx="793.5" cy="970.0" rx="1.9" ry="1.5" fill="#169ac9"/>
<ellipse cx="751.0" cy="944.0" rx="1.9" ry="1.5" fill="#169ac9"/>
<ellipse cx="773.5" cy="979.3" rx="1.9" ry="1.5" fill="#169ac9"/>
<ellipse cx="807.3" cy="988.6" rx="1.9" ry="1.5" fill="#169ac9"/>
<ellipse cx="796.1" cy="1017.1" rx="1.9" ry="1.5" fill="#169ac9"/>
<ellipse cx="818.2" cy="1027.7" rx="1.9" ry="1.5" fill="#169ac9"/>
<ellipse cx="818.7" cy="1044.9" rx="1.9" ry="1.5" fill="#169ac9"/>
<polyline points="923.1,843.1 930.3,852.4 945.4,872.8 968.2,902.8 990.5,933.4" fill="none" stroke="#8a70e0" stroke-width="1.2"/>
<circle cx="923.1" cy="843.1" r="1.5" fill="#8a70e0"/>
<circle cx="930.3" cy="852.4" r="1.5" fill="#8a70e0"/>
<circle cx="945.4" cy="872.8" r="1.5" fill="#8a70e0"/>
<circle cx="968.2" cy="902.8" r="1.5" fill="#8a70e0"/>
<circle cx="990.5" cy="933.4" r="1.5" fill="#8a70e0"/>
<path d="M1095.8,814.4 Q1160.3,897 1224.8,984.2 L1224.8,1003.6 Q1160.3,918 1095.8,824.1 Z" fill="#f5b8f0"/>
<path d="M1095.8,820.0 L1224.8,992.0" fill="none" stroke="#d94fd0" stroke-width="1.0"/>
<ellipse cx="1094.8" cy="805.3" rx="1.8" ry="1.4" fill="#d94fd0"/>
<ellipse cx="1094.8" cy="826.2" rx="1.8" ry="1.4" fill="#d94fd0"/>
<ellipse cx="1105.2" cy="840.1" rx="1.8" ry="1.4" fill="#d94fd0"/>
<ellipse cx="1114.9" cy="837.7" rx="1.8" ry="1.4" fill="#d94fd0"/>
<ellipse cx="1115.6" cy="853.0" rx="1.8" ry="1.4" fill="#d94fd0"/>
<ellipse cx="1133.0" cy="863.7" rx="1.8" ry="1.4" fill="#d94fd0"/>
<ellipse cx="1134.7" cy="880.4" rx="1.8" ry="1.4" fill="#d94fd0"/>
<ellipse cx="1171.9" cy="918.0" rx="1.8" ry="1.4" fill="#d94fd0"/>
<ellipse cx="1222.7" cy="988.5" rx="1.8" ry="1.4" fill="#d94fd0"/>
<ellipse cx="1225.1" cy="1000.0" rx="1.8" ry="1.4" fill="#d94fd0"/>
<line x1="1254.7" y1="140.5" x2="1254.7" y2="166" stroke="#6a6a6a" stroke-width="1.2"/>
<line x1="1255" y1="766" x2="1255" y2="782.5" stroke="#6a6a6a" stroke-width="1.2"/>
<defs>
<linearGradient id="gBass" x1="0" y1="0" x2="0" y2="1">
<stop offset="0" stop-color="#505a58"/><stop offset="0.3" stop-color="#8a928e"/><stop offset="0.55" stop-color="#d2d3ca"/><stop offset="1" stop-color="#ebeae0"/></linearGradient>
<linearGradient id="gBassHead" x1="0" y1="0" x2="0" y2="1"><stop offset="0" stop-color="#656a62"/><stop offset="0.45" stop-color="#b9b29c"/><stop offset="1" stop-color="#e2ddcc"/></linearGradient>
<linearGradient id="gBassTail" x1="0" y1="0" x2="1" y2="0"><stop offset="0" stop-color="#9a9a8a"/><stop offset="1" stop-color="#4a4a40"/></linearGradient>
<linearGradient id="gSal" x1="0" y1="0" x2="0" y2="1">
<stop offset="0" stop-color="#5d583c"/><stop offset="0.3" stop-color="#928d74"/><stop offset="0.55" stop-color="#d8d5c8"/><stop offset="1" stop-color="#ebe8de"/></linearGradient>
<linearGradient id="gSalTail" x1="0" y1="0" x2="1" y2="0"><stop offset="0" stop-color="#8d8a70"/><stop offset="1" stop-color="#5e5a40"/></linearGradient>
<linearGradient id="gTrout" x1="0" y1="0" x2="0" y2="1">
<stop offset="0" stop-color="#4f5230"/><stop offset="0.3" stop-color="#8c8c5a"/><stop offset="0.5" stop-color="#c8c098"/><stop offset="0.7" stop-color="#e6e0c6"/><stop offset="1" stop-color="#eee8d6"/></linearGradient>
<linearGradient id="gTroutHead" x1="0" y1="0" x2="0" y2="1"><stop offset="0" stop-color="#4a4c2c"/><stop offset="0.45" stop-color="#8d8a5e"/><stop offset="0.7" stop-color="#d9d2b8"/><stop offset="1" stop-color="#ece6d2"/></linearGradient>
<linearGradient id="gTroutTail" x1="0" y1="0" x2="1" y2="0"><stop offset="0" stop-color="#8a8a5c"/><stop offset="1" stop-color="#5a5a36"/></linearGradient>
<linearGradient id="gEel" x1="0" y1="0" x2="0" y2="1">
<stop offset="0" stop-color="#7a7542"/><stop offset="0.3" stop-color="#a09a62"/><stop offset="0.6" stop-color="#cdc796"/><stop offset="1" stop-color="#b8b27a"/></linearGradient>
<linearGradient id="gStur" x1="0" y1="0" x2="0" y2="1">
<stop offset="0" stop-color="#777056"/><stop offset="0.4" stop-color="#a09a7c"/><stop offset="0.75" stop-color="#c2bb9e"/><stop offset="1" stop-color="#d4cdb2"/></linearGradient>
<linearGradient id="gShrimp" x1="0" y1="0" x2="0" y2="1">
<stop offset="0" stop-color="#d9bb7e"/><stop offset="1" stop-color="#efdcb0"/></linearGradient>
<linearGradient id="gKrill" x1="0" y1="0" x2="0" y2="1"><stop offset="0" stop-color="#eeb47e"/><stop offset="0.5" stop-color="#f3c89a"/><stop offset="1" stop-color="#f6dcc0"/></linearGradient>

<g id="bass">
<path d="M455.9,798.3 C452.3,796.7 458.5,790.2 459.5,788.1 C460.5,785.9 460.8,785.7 461.9,785.6 C463.0,785.5 464.6,786.8 466.2,787.4 C467.7,788.1 469.4,788.6 471.0,789.5 C472.6,790.5 474.2,791.7 475.8,793.1 C477.5,794.6 484.0,797.1 480.7,798.0 C477.4,798.9 459.4,800.0 455.9,798.3 Z" fill="#aaa699"/>
<path d="M459.5,796.5 L461.9,786.2 M465.5,797.1 L466.2,787.8 M471.6,797.5 L471.0,789.9" stroke="#8d897c" stroke-width="0.5"/>
<path d="M488.6,799.0 C486.1,796.6 497.4,791.4 500.7,791.1 C503.9,790.8 505.5,794.8 507.9,797.1 C510.4,799.5 518.4,804.7 515.2,805.0 C512.0,805.3 491.0,801.3 488.6,799.0 Z" fill="#a9a595"/>
<path d="M451.0,826.6 C451.8,825.2 457.6,825.2 459.5,827.0 C461.4,828.9 463.3,836.3 462.5,837.7 C461.7,839.1 456.6,837.1 454.6,835.3 C452.7,833.4 450.2,827.9 451.0,826.6 Z" fill="#c9c4b2"/>
<path d="M494.6,824.6 C495.1,822.5 508.3,821.8 511.6,821.7 C514.8,821.7 514.5,822.3 514.0,824.4 C513.5,826.5 511.8,834.3 508.5,834.3 C505.3,834.4 494.1,826.7 494.6,824.6 Z" fill="#c2bdaa"/>
<path d="M530.9,808.4 C533.2,805.2 540.3,803.6 544.3,801.4 C548.2,799.2 553.8,794.3 554.8,795.1 C555.8,795.9 551.4,803.1 550.3,806.2 C549.2,809.3 547.9,811.1 548.1,813.7 C548.3,816.4 550.3,818.9 551.5,822.0 C552.7,825.0 556.8,831.2 555.4,831.9 C554.0,832.6 547.1,828.1 543.0,826.2 C539.0,824.3 533.0,823.5 530.9,820.5 C528.9,817.5 528.7,811.6 530.9,808.4 Z" fill="url(#gBassTail)"/>
<path d="M412.0,814.9 C413.3,813.8 416.7,810.9 419.5,809.2 C422.4,807.6 425.6,806.3 429.2,805.0 C432.9,803.7 436.9,802.5 441.3,801.4 C445.8,800.3 449.8,799.0 455.9,798.3 C461.9,797.7 472.0,797.6 477.7,797.7 C483.3,797.8 484.7,798.0 489.8,799.0 C494.8,799.9 502.7,801.9 507.9,803.2 C513.2,804.5 516.8,806.0 521.3,806.8 C525.7,807.7 531.8,807.1 534.6,808.4 C537.3,809.7 537.6,812.4 537.6,814.5 C537.6,816.5 537.5,819.5 534.6,820.8 C531.6,822.0 525.5,821.5 520.0,822.2 C514.6,823.0 507.9,824.4 501.9,825.2 C495.8,826.0 490.2,826.6 483.7,827.0 C477.3,827.5 469.6,828.0 463.1,827.7 C456.7,827.3 450.6,826.3 445.0,825.2 C439.3,824.1 433.9,822.2 429.2,821.0 C424.6,819.8 420.0,818.8 417.1,818.0 C414.2,817.2 412.9,816.7 412.0,816.1 C411.2,815.6 410.8,816.1 412.0,814.9 Z" fill="url(#gBass)"/>
<path d="M412.3,814.9 C412.7,813.5 416.7,810.9 419.5,809.2 C422.4,807.6 426.2,806.3 429.2,805.3 C432.2,804.2 435.3,802.7 437.7,803.2 C440.1,803.7 442.4,806.2 443.8,808.0 C445.1,809.9 446.0,811.8 445.6,814.1 C445.2,816.4 444.1,820.8 441.3,822.0 C438.6,823.1 433.3,821.7 429.2,821.0 C425.2,820.3 419.9,819.0 417.1,818.0 C414.3,817.0 411.9,816.4 412.3,814.9 Z" fill="url(#gBassHead)" opacity="0.85"/>
<path d="M435.9,803.8 Q445.0,812.3 439.5,822.6" stroke="#7f7e72" stroke-width="1" fill="none"/>
<path d="M446.2,816.1 C449.0,815.0 461.9,813.5 464.3,814.1 C466.8,814.7 463.5,818.6 460.7,819.8 C457.9,820.9 449.8,821.6 447.4,821.0 C445.0,820.4 443.3,817.3 446.2,816.1 Z" fill="#a8a494"/>
<circle cx="424.4" cy="810.5" r="1.5" fill="#3a3a30"/>
</g>
<g id="salmon">
<path d="M555.3,179.0 C553.0,177.1 564.2,168.6 567.5,167.8 C570.8,167.0 573.0,172.3 575.2,174.2 C577.5,176.2 584.4,178.6 581.0,179.4 C577.7,180.2 557.5,180.9 555.3,179.0 Z" fill="#6a6548"/>
<path d="M604.2,185.8 C603.5,185.3 607.2,183.1 608.7,183.3 C610.2,183.4 614.0,186.3 613.3,186.7 C612.5,187.2 605.0,186.4 604.2,185.8 Z" fill="#6f6a4c"/>
<path d="M564.3,209.0 C564.9,207.7 570.1,206.1 572.7,207.8 C575.2,209.4 580.4,217.3 579.7,218.7 C579.1,220.1 571.4,217.7 568.8,216.1 C566.2,214.5 563.6,210.4 564.3,209.0 Z" fill="#cfcabb"/>
<path d="M592.0,205.8 C592.8,203.5 607.9,199.2 610.0,200.7 C612.2,202.2 607.9,214.0 604.9,214.8 C601.9,215.7 591.1,208.2 592.0,205.8 Z" fill="#c5c0ae"/>
<path d="M619.1,189.7 C621.2,186.7 627.8,185.1 631.9,182.6 C636.1,180.2 642.7,173.0 643.8,174.9 C644.9,176.8 638.5,187.4 638.4,194.2 C638.3,201.1 644.4,213.7 643.3,215.9 C642.2,218.0 636.0,209.6 631.9,207.1 C627.9,204.6 621.2,203.6 619.1,200.7 C616.9,197.8 616.9,192.7 619.1,189.7 Z" fill="url(#gSalTail)"/>
<path d="M491.4,196.2 C492.9,194.8 496.2,191.8 500.5,189.7 C504.8,187.7 511.2,185.5 517.2,183.9 C523.2,182.3 530.1,180.9 536.6,180.0 C543.0,179.1 549.4,178.5 555.9,178.5 C562.3,178.5 568.8,179.3 575.2,180.0 C581.7,180.8 589.2,182.2 594.6,183.3 C599.9,184.3 602.5,185.5 607.5,186.5 C612.4,187.5 620.8,187.9 624.2,189.3 C627.6,190.7 628.0,193.0 628.1,194.9 C628.2,196.8 628.3,199.2 624.9,200.7 C621.4,202.1 613.6,202.4 607.5,203.5 C601.3,204.6 594.6,206.0 588.1,207.1 C581.7,208.2 575.2,209.5 568.8,210.0 C562.3,210.4 555.9,210.4 549.4,210.0 C543.0,209.5 536.1,208.2 530.1,207.1 C524.1,206.0 518.7,204.6 513.4,203.5 C508.0,202.4 501.5,201.3 497.9,200.4 C494.3,199.5 492.8,198.8 491.7,198.1 C490.6,197.4 490.0,197.6 491.4,196.2 Z" fill="url(#gSal)"/>
<ellipse cx="518.5" cy="196.5" rx="6.5" ry="5.5" fill="#dcdad2" opacity="0.75"/>
<path d="M525.0,202.0 C527.1,201.3 542.1,202.9 543.0,203.9 C543.9,204.9 533.1,208.1 530.1,207.8 C527.1,207.4 522.8,202.6 525.0,202.0 Z" fill="#b5ae98"/>
<circle cx="505.6" cy="193.6" r="1.3" fill="#3b3520"/>
<circle cx="527.5" cy="184.7" r="0.75" fill="#3e3a26" opacity="0.85"/><circle cx="533.3" cy="184.4" r="0.75" fill="#3e3a26" opacity="0.85"/><circle cx="539.1" cy="184.2" r="0.75" fill="#3e3a26" opacity="0.85"/><circle cx="544.9" cy="184.0" r="0.75" fill="#3e3a26" opacity="0.85"/><circle cx="550.7" cy="183.9" r="0.75" fill="#3e3a26" opacity="0.85"/><circle cx="556.5" cy="183.9" r="0.75" fill="#3e3a26" opacity="0.85"/><circle cx="562.3" cy="184.0" r="0.75" fill="#3e3a26" opacity="0.85"/><circle cx="568.1" cy="184.1" r="0.75" fill="#3e3a26" opacity="0.85"/><circle cx="573.9" cy="184.2" r="0.75" fill="#3e3a26" opacity="0.85"/><circle cx="579.7" cy="184.4" r="0.75" fill="#3e3a26" opacity="0.85"/><circle cx="585.5" cy="184.7" r="0.75" fill="#3e3a26" opacity="0.85"/><circle cx="591.3" cy="185.1" r="0.75" fill="#3e3a26" opacity="0.85"/><circle cx="597.1" cy="185.5" r="0.75" fill="#3e3a26" opacity="0.85"/><circle cx="602.9" cy="186.0" r="0.75" fill="#3e3a26" opacity="0.85"/><circle cx="608.7" cy="186.5" r="0.75" fill="#3e3a26" opacity="0.85"/><circle cx="614.5" cy="187.1" r="0.75" fill="#3e3a26" opacity="0.85"/><circle cx="530.4" cy="187.4" r="0.75" fill="#3e3a26" opacity="0.85"/><circle cx="536.2" cy="187.1" r="0.75" fill="#3e3a26" opacity="0.85"/><circle cx="542.0" cy="186.9" r="0.75" fill="#3e3a26" opacity="0.85"/><circle cx="547.8" cy="186.8" r="0.75" fill="#3e3a26" opacity="0.85"/><circle cx="553.6" cy="186.8" r="0.75" fill="#3e3a26" opacity="0.85"/><circle cx="559.4" cy="186.8" r="0.75" fill="#3e3a26" opacity="0.85"/><circle cx="565.2" cy="186.8" r="0.75" fill="#3e3a26" opacity="0.85"/><circle cx="571.0" cy="187.0" r="0.75" fill="#3e3a26" opacity="0.85"/><circle cx="576.8" cy="187.2" r="0.75" fill="#3e3a26" opacity="0.85"/><circle cx="582.6" cy="187.4" r="0.75" fill="#3e3a26" opacity="0.85"/><circle cx="588.4" cy="187.7" r="0.75" fill="#3e3a26" opacity="0.85"/><circle cx="594.2" cy="188.1" r="0.75" fill="#3e3a26" opacity="0.85"/><circle cx="600.0" cy="188.6" r="0.75" fill="#3e3a26" opacity="0.85"/><circle cx="605.8" cy="189.1" r="0.75" fill="#3e3a26" opacity="0.85"/><circle cx="611.6" cy="189.6" r="0.75" fill="#3e3a26" opacity="0.85"/><circle cx="617.4" cy="190.3" r="0.75" fill="#3e3a26" opacity="0.85"/><circle cx="527.5" cy="190.3" r="0.75" fill="#3e3a26" opacity="0.85"/><circle cx="533.3" cy="190.1" r="0.75" fill="#3e3a26" opacity="0.85"/><circle cx="539.1" cy="189.8" r="0.75" fill="#3e3a26" opacity="0.85"/><circle cx="544.9" cy="189.7" r="0.75" fill="#3e3a26" opacity="0.85"/><circle cx="550.7" cy="189.6" r="0.75" fill="#3e3a26" opacity="0.85"/><circle cx="556.5" cy="189.6" r="0.75" fill="#3e3a26" opacity="0.85"/><circle cx="562.3" cy="189.6" r="0.75" fill="#3e3a26" opacity="0.85"/><circle cx="568.1" cy="189.7" r="0.75" fill="#3e3a26" opacity="0.85"/><circle cx="573.9" cy="189.9" r="0.75" fill="#3e3a26" opacity="0.85"/><circle cx="579.7" cy="190.1" r="0.75" fill="#3e3a26" opacity="0.85"/><circle cx="585.5" cy="190.4" r="0.75" fill="#3e3a26" opacity="0.85"/><circle cx="591.3" cy="190.8" r="0.75" fill="#3e3a26" opacity="0.85"/><circle cx="597.1" cy="191.2" r="0.75" fill="#3e3a26" opacity="0.85"/><circle cx="602.9" cy="191.6" r="0.75" fill="#3e3a26" opacity="0.85"/><circle cx="608.7" cy="192.2" r="0.75" fill="#3e3a26" opacity="0.85"/><circle cx="614.5" cy="192.8" r="0.75" fill="#3e3a26" opacity="0.85"/><circle cx="530.4" cy="193.0" r="0.75" fill="#3e3a26" opacity="0.85"/><circle cx="536.2" cy="192.8" r="0.75" fill="#3e3a26" opacity="0.85"/><circle cx="542.0" cy="192.6" r="0.75" fill="#3e3a26" opacity="0.85"/><circle cx="547.8" cy="192.5" r="0.75" fill="#3e3a26" opacity="0.85"/><circle cx="553.6" cy="192.4" r="0.75" fill="#3e3a26" opacity="0.85"/><circle cx="559.4" cy="192.4" r="0.75" fill="#3e3a26" opacity="0.85"/><circle cx="565.2" cy="192.5" r="0.75" fill="#3e3a26" opacity="0.85"/><circle cx="571.0" cy="192.6" r="0.75" fill="#3e3a26" opacity="0.85"/><circle cx="576.8" cy="192.8" r="0.75" fill="#3e3a26" opacity="0.85"/><circle cx="582.6" cy="193.1" r="0.75" fill="#3e3a26" opacity="0.85"/><circle cx="588.4" cy="193.4" r="0.75" fill="#3e3a26" opacity="0.85"/><circle cx="594.2" cy="193.8" r="0.75" fill="#3e3a26" opacity="0.85"/><circle cx="600.0" cy="194.2" r="0.75" fill="#3e3a26" opacity="0.85"/><circle cx="605.8" cy="194.7" r="0.75" fill="#3e3a26" opacity="0.85"/><circle cx="611.6" cy="195.3" r="0.75" fill="#3e3a26" opacity="0.85"/><circle cx="617.4" cy="195.9" r="0.75" fill="#3e3a26" opacity="0.85"/><circle cx="527.5" cy="196.0" r="0.75" fill="#3e3a26" opacity="0.85"/><circle cx="533.3" cy="195.7" r="0.75" fill="#3e3a26" opacity="0.85"/><circle cx="539.1" cy="195.5" r="0.75" fill="#3e3a26" opacity="0.85"/><circle cx="544.9" cy="195.4" r="0.75" fill="#3e3a26" opacity="0.85"/><circle cx="550.7" cy="195.3" r="0.75" fill="#3e3a26" opacity="0.85"/><circle cx="556.5" cy="195.3" r="0.75" fill="#3e3a26" opacity="0.85"/><circle cx="562.3" cy="195.3" r="0.75" fill="#3e3a26" opacity="0.85"/><circle cx="568.1" cy="195.4" r="0.75" fill="#3e3a26" opacity="0.85"/><circle cx="573.9" cy="195.6" r="0.75" fill="#3e3a26" opacity="0.85"/><circle cx="579.7" cy="195.8" r="0.75" fill="#3e3a26" opacity="0.85"/><circle cx="585.5" cy="196.1" r="0.75" fill="#3e3a26" opacity="0.85"/><circle cx="591.3" cy="196.4" r="0.75" fill="#3e3a26" opacity="0.85"/><circle cx="597.1" cy="196.8" r="0.75" fill="#3e3a26" opacity="0.85"/><circle cx="602.9" cy="197.3" r="0.75" fill="#3e3a26" opacity="0.85"/><circle cx="608.7" cy="197.9" r="0.75" fill="#3e3a26" opacity="0.85"/>
</g>
<g id="trout">
<path d="M1176.2,180.8 C1174.3,178.9 1185.7,170.6 1188.5,169.7 C1191.4,168.8 1191.3,173.6 1193.2,175.5 C1195.2,177.5 1203.1,180.5 1200.2,181.4 C1197.4,182.3 1178.2,182.8 1176.2,180.8 Z" fill="#66643a"/>
<path d="M1214.9,186.7 C1214.3,186.1 1219.7,184.4 1221.3,184.7 C1223.0,184.9 1225.9,187.9 1224.8,188.2 C1223.8,188.5 1215.5,187.3 1214.9,186.7 Z" fill="#6a6840"/>
<path d="M1183.2,209.3 C1184.2,207.9 1189.9,206.3 1192.0,208.1 C1194.2,209.9 1197.1,218.7 1196.1,220.1 C1195.2,221.5 1188.3,218.4 1186.2,216.6 C1184.0,214.8 1182.3,210.7 1183.2,209.3 Z" fill="#e4ab94"/>
<path d="M1207.3,206.0 C1208.1,203.8 1221.8,200.7 1223.7,202.3 C1225.5,203.8 1221.1,214.8 1218.4,215.4 C1215.7,216.0 1206.4,208.2 1207.3,206.0 Z" fill="#e6a890"/>
<path d="M1230.7,190.8 C1232.5,188.1 1238.0,186.2 1241.3,184.3 C1244.5,182.5 1249.2,177.9 1250.3,179.6 C1251.4,181.4 1247.7,189.7 1247.7,194.9 C1247.7,200.1 1251.5,209.2 1250.3,210.9 C1249.0,212.7 1243.3,207.2 1240.1,205.4 C1236.8,203.6 1232.3,202.6 1230.7,200.2 C1229.1,197.7 1228.9,193.4 1230.7,190.8 Z" fill="url(#gTroutTail)"/>
<path d="M1120.5,195.2 C1121.5,193.7 1123.5,191.5 1127.6,189.6 C1131.7,187.7 1139.3,185.2 1145.2,183.8 C1151.0,182.3 1156.9,181.5 1162.7,180.8 C1168.6,180.1 1174.5,179.6 1180.3,179.6 C1186.2,179.7 1192.4,180.5 1197.9,181.4 C1203.4,182.3 1208.6,183.8 1213.1,184.9 C1217.6,186.1 1221.3,187.6 1224.8,188.4 C1228.4,189.3 1232.1,189.1 1234.2,190.2 C1236.4,191.3 1237.6,193.6 1237.7,195.2 C1237.8,196.9 1237.5,198.8 1234.8,200.2 C1232.1,201.5 1226.5,201.9 1221.3,203.1 C1216.2,204.3 1209.6,206.0 1203.8,207.2 C1197.9,208.4 1192.0,209.6 1186.2,210.1 C1180.3,210.6 1174.5,210.6 1168.6,210.1 C1162.7,209.6 1156.9,208.4 1151.0,207.2 C1145.2,206.0 1138.3,204.1 1133.4,202.7 C1128.6,201.4 1123.9,200.2 1121.7,199.0 C1119.6,197.7 1119.6,196.8 1120.5,195.2 Z" fill="url(#gTrout)"/>
<path d="M1137.0,193.7 C1144.2,192.2 1165.3,191.4 1180.3,191.4 C1195.4,191.3 1219.4,192.6 1227.2,193.5 C1235.0,194.4 1235.0,196.0 1227.2,196.9 C1219.4,197.8 1195.4,198.2 1180.3,198.8 C1165.3,199.3 1144.2,201.0 1137.0,200.2 C1129.7,199.3 1129.7,195.2 1137.0,193.7 Z" fill="#e69488" opacity="0.6"/>
<path d="M1120.5,195.2 C1121.5,193.7 1123.5,191.5 1127.6,189.6 C1131.7,187.7 1141.1,184.9 1145.2,183.8 C1149.3,182.6 1150.6,180.8 1152.2,182.6 C1153.8,184.3 1154.7,190.6 1154.5,194.3 C1154.3,198.0 1154.5,203.4 1151.0,204.8 C1147.5,206.3 1138.3,203.7 1133.4,202.7 C1128.6,201.8 1123.9,200.2 1121.7,199.0 C1119.6,197.7 1119.6,196.8 1120.5,195.2 Z" fill="url(#gTroutHead)" opacity="0.8"/>
<ellipse cx="1145.7" cy="196.4" rx="5" ry="4.2" fill="#e79a92" opacity="0.9"/>
<path d="M1151.0,202.5 C1152.6,202.0 1165.3,203.5 1166.3,204.3 C1167.2,205.0 1159.4,207.5 1156.9,207.2 C1154.3,206.9 1149.5,203.0 1151.0,202.5 Z" fill="#d49a84"/>
<circle cx="1132.3" cy="193.1" r="1.2" fill="#2a2a18"/>
<circle cx="1145.2" cy="185.4" r="0.6" fill="#40401c" opacity="0.75"/><circle cx="1149.6" cy="185.1" r="0.6" fill="#40401c" opacity="0.75"/><circle cx="1154.1" cy="184.9" r="0.6" fill="#40401c" opacity="0.75"/><circle cx="1158.5" cy="184.7" r="0.6" fill="#40401c" opacity="0.75"/><circle cx="1163.0" cy="184.6" r="0.6" fill="#40401c" opacity="0.75"/><circle cx="1167.4" cy="184.5" r="0.6" fill="#40401c" opacity="0.75"/><circle cx="1171.9" cy="184.4" r="0.6" fill="#40401c" opacity="0.75"/><circle cx="1176.3" cy="184.4" r="0.6" fill="#40401c" opacity="0.75"/><circle cx="1180.8" cy="184.3" r="0.6" fill="#40401c" opacity="0.75"/><circle cx="1185.2" cy="184.4" r="0.6" fill="#40401c" opacity="0.75"/><circle cx="1189.7" cy="184.4" r="0.6" fill="#40401c" opacity="0.75"/><circle cx="1194.1" cy="184.5" r="0.6" fill="#40401c" opacity="0.75"/><circle cx="1198.6" cy="184.6" r="0.6" fill="#40401c" opacity="0.75"/><circle cx="1203.1" cy="184.8" r="0.6" fill="#40401c" opacity="0.75"/><circle cx="1207.5" cy="185.0" r="0.6" fill="#40401c" opacity="0.75"/><circle cx="1212.0" cy="185.2" r="0.6" fill="#40401c" opacity="0.75"/><circle cx="1216.4" cy="185.4" r="0.6" fill="#40401c" opacity="0.75"/><circle cx="1220.9" cy="185.7" r="0.6" fill="#40401c" opacity="0.75"/><circle cx="1225.3" cy="186.1" r="0.6" fill="#40401c" opacity="0.75"/><circle cx="1229.8" cy="186.4" r="0.6" fill="#40401c" opacity="0.75"/><circle cx="1147.4" cy="188.2" r="0.6" fill="#40401c" opacity="0.75"/><circle cx="1151.8" cy="188.0" r="0.6" fill="#40401c" opacity="0.75"/><circle cx="1156.3" cy="187.8" r="0.6" fill="#40401c" opacity="0.75"/><circle cx="1160.7" cy="187.6" r="0.6" fill="#40401c" opacity="0.75"/><circle cx="1165.2" cy="187.5" r="0.6" fill="#40401c" opacity="0.75"/><circle cx="1169.7" cy="187.4" r="0.6" fill="#40401c" opacity="0.75"/><circle cx="1174.1" cy="187.3" r="0.6" fill="#40401c" opacity="0.75"/><circle cx="1178.6" cy="187.3" r="0.6" fill="#40401c" opacity="0.75"/><circle cx="1183.0" cy="187.3" r="0.6" fill="#40401c" opacity="0.75"/><circle cx="1187.5" cy="187.3" r="0.6" fill="#40401c" opacity="0.75"/><circle cx="1191.9" cy="187.4" r="0.6" fill="#40401c" opacity="0.75"/><circle cx="1196.4" cy="187.5" r="0.6" fill="#40401c" opacity="0.75"/><circle cx="1200.8" cy="187.6" r="0.6" fill="#40401c" opacity="0.75"/><circle cx="1205.3" cy="187.8" r="0.6" fill="#40401c" opacity="0.75"/><circle cx="1209.7" cy="188.0" r="0.6" fill="#40401c" opacity="0.75"/><circle cx="1214.2" cy="188.2" r="0.6" fill="#40401c" opacity="0.75"/><circle cx="1218.6" cy="188.5" r="0.6" fill="#40401c" opacity="0.75"/><circle cx="1223.1" cy="188.8" r="0.6" fill="#40401c" opacity="0.75"/><circle cx="1227.5" cy="189.2" r="0.6" fill="#40401c" opacity="0.75"/><circle cx="1232.0" cy="189.5" r="0.6" fill="#40401c" opacity="0.75"/><circle cx="1145.2" cy="191.3" r="0.6" fill="#40401c" opacity="0.75"/><circle cx="1149.6" cy="191.0" r="0.6" fill="#40401c" opacity="0.75"/><circle cx="1154.1" cy="190.8" r="0.6" fill="#40401c" opacity="0.75"/><circle cx="1158.5" cy="190.6" r="0.6" fill="#40401c" opacity="0.75"/><circle cx="1163.0" cy="190.5" r="0.6" fill="#40401c" opacity="0.75"/><circle cx="1167.4" cy="190.3" r="0.6" fill="#40401c" opacity="0.75"/><circle cx="1171.9" cy="190.3" r="0.6" fill="#40401c" opacity="0.75"/><circle cx="1176.3" cy="190.2" r="0.6" fill="#40401c" opacity="0.75"/><circle cx="1180.8" cy="190.2" r="0.6" fill="#40401c" opacity="0.75"/><circle cx="1185.2" cy="190.2" r="0.6" fill="#40401c" opacity="0.75"/><circle cx="1189.7" cy="190.3" r="0.6" fill="#40401c" opacity="0.75"/><circle cx="1194.1" cy="190.4" r="0.6" fill="#40401c" opacity="0.75"/><circle cx="1198.6" cy="190.5" r="0.6" fill="#40401c" opacity="0.75"/><circle cx="1203.1" cy="190.6" r="0.6" fill="#40401c" opacity="0.75"/><circle cx="1207.5" cy="190.8" r="0.6" fill="#40401c" opacity="0.75"/><circle cx="1212.0" cy="191.1" r="0.6" fill="#40401c" opacity="0.75"/><circle cx="1216.4" cy="191.3" r="0.6" fill="#40401c" opacity="0.75"/><circle cx="1220.9" cy="191.6" r="0.6" fill="#40401c" opacity="0.75"/><circle cx="1225.3" cy="191.9" r="0.6" fill="#40401c" opacity="0.75"/><circle cx="1229.8" cy="192.3" r="0.6" fill="#40401c" opacity="0.75"/><circle cx="1147.4" cy="194.1" r="0.6" fill="#40401c" opacity="0.75"/><circle cx="1151.8" cy="193.8" r="0.6" fill="#40401c" opacity="0.75"/><circle cx="1156.3" cy="193.6" r="0.6" fill="#40401c" opacity="0.75"/><circle cx="1160.7" cy="193.5" r="0.6" fill="#40401c" opacity="0.75"/><circle cx="1165.2" cy="193.3" r="0.6" fill="#40401c" opacity="0.75"/><circle cx="1169.7" cy="193.2" r="0.6" fill="#40401c" opacity="0.75"/><circle cx="1174.1" cy="193.2" r="0.6" fill="#40401c" opacity="0.75"/><circle cx="1178.6" cy="193.1" r="0.6" fill="#40401c" opacity="0.75"/><circle cx="1183.0" cy="193.1" r="0.6" fill="#40401c" opacity="0.75"/><circle cx="1187.5" cy="193.2" r="0.6" fill="#40401c" opacity="0.75"/><circle cx="1191.9" cy="193.2" r="0.6" fill="#40401c" opacity="0.75"/><circle cx="1196.4" cy="193.3" r="0.6" fill="#40401c" opacity="0.75"/><circle cx="1200.8" cy="193.5" r="0.6" fill="#40401c" opacity="0.75"/><circle cx="1205.3" cy="193.7" r="0.6" fill="#40401c" opacity="0.75"/><circle cx="1209.7" cy="193.9" r="0.6" fill="#40401c" opacity="0.75"/><circle cx="1214.2" cy="194.1" r="0.6" fill="#40401c" opacity="0.75"/><circle cx="1218.6" cy="194.4" r="0.6" fill="#40401c" opacity="0.75"/><circle cx="1223.1" cy="194.7" r="0.6" fill="#40401c" opacity="0.75"/><circle cx="1227.5" cy="195.0" r="0.6" fill="#40401c" opacity="0.75"/><circle cx="1232.0" cy="195.4" r="0.6" fill="#40401c" opacity="0.75"/><circle cx="1145.2" cy="197.1" r="0.6" fill="#40401c" opacity="0.75"/><circle cx="1149.6" cy="196.9" r="0.6" fill="#40401c" opacity="0.75"/><circle cx="1154.1" cy="196.6" r="0.6" fill="#40401c" opacity="0.75"/><circle cx="1158.5" cy="196.5" r="0.6" fill="#40401c" opacity="0.75"/><circle cx="1163.0" cy="196.3" r="0.6" fill="#40401c" opacity="0.75"/><circle cx="1167.4" cy="196.2" r="0.6" fill="#40401c" opacity="0.75"/><circle cx="1171.9" cy="196.1" r="0.6" fill="#40401c" opacity="0.75"/><circle cx="1176.3" cy="196.1" r="0.6" fill="#40401c" opacity="0.75"/><circle cx="1180.8" cy="196.1" r="0.6" fill="#40401c" opacity="0.75"/><circle cx="1185.2" cy="196.1" r="0.6" fill="#40401c" opacity="0.75"/><circle cx="1189.7" cy="196.1" r="0.6" fill="#40401c" opacity="0.75"/><circle cx="1194.1" cy="196.2" r="0.6" fill="#40401c" opacity="0.75"/><circle cx="1198.6" cy="196.3" r="0.6" fill="#40401c" opacity="0.75"/><circle cx="1203.1" cy="196.5" r="0.6" fill="#40401c" opacity="0.75"/><circle cx="1207.5" cy="196.7" r="0.6" fill="#40401c" opacity="0.75"/><circle cx="1212.0" cy="196.9" r="0.6" fill="#40401c" opacity="0.75"/><circle cx="1216.4" cy="197.2" r="0.6" fill="#40401c" opacity="0.75"/><circle cx="1220.9" cy="197.5" r="0.6" fill="#40401c" opacity="0.75"/><circle cx="1225.3" cy="197.8" r="0.6" fill="#40401c" opacity="0.75"/><circle cx="1229.8" cy="198.1" r="0.6" fill="#40401c" opacity="0.75"/><circle cx="1147.4" cy="199.9" r="0.6" fill="#40401c" opacity="0.75"/><circle cx="1151.8" cy="199.7" r="0.6" fill="#40401c" opacity="0.75"/><circle cx="1156.3" cy="199.5" r="0.6" fill="#40401c" opacity="0.75"/><circle cx="1160.7" cy="199.3" r="0.6" fill="#40401c" opacity="0.75"/><circle cx="1165.2" cy="199.2" r="0.6" fill="#40401c" opacity="0.75"/><circle cx="1169.7" cy="199.1" r="0.6" fill="#40401c" opacity="0.75"/><circle cx="1174.1" cy="199.0" r="0.6" fill="#40401c" opacity="0.75"/><circle cx="1178.6" cy="199.0" r="0.6" fill="#40401c" opacity="0.75"/><circle cx="1183.0" cy="199.0" r="0.6" fill="#40401c" opacity="0.75"/><circle cx="1187.5" cy="199.0" r="0.6" fill="#40401c" opacity="0.75"/><circle cx="1191.9" cy="199.1" r="0.6" fill="#40401c" opacity="0.75"/><circle cx="1196.4" cy="199.2" r="0.6" fill="#40401c" opacity="0.75"/><circle cx="1200.8" cy="199.3" r="0.6" fill="#40401c" opacity="0.75"/><circle cx="1205.3" cy="199.5" r="0.6" fill="#40401c" opacity="0.75"/><circle cx="1209.7" cy="199.7" r="0.6" fill="#40401c" opacity="0.75"/><circle cx="1214.2" cy="200.0" r="0.6" fill="#40401c" opacity="0.75"/>
</g>
<g id="shrimp">
<path d="M871.1,188.0 C860.9,193.4 861.7,207.5 873.4,215.3 S900.0,219.2 900.0,219.2" fill="none" stroke="#cdbb98" stroke-width="0.6"/>
<path d="M856.2,173.9 L868.0,181.7 M858.6,184.1 L868.8,182.9" stroke="#c9b48a" stroke-width="0.7"/>
<path d="M882.8,191.1 Q876.9,195.0 873.4,198.9" stroke="#d5c49c" stroke-width="0.9" fill="none"/><path d="M885.2,191.9 Q880.4,196.6 878.1,201.2" stroke="#d5c49c" stroke-width="0.9" fill="none"/><path d="M887.5,192.7 Q882.8,199.3 880.5,205.9" stroke="#d5c49c" stroke-width="0.9" fill="none"/><path d="M890.6,193.4 Q886.3,201.2 884.4,209.1" stroke="#d5c49c" stroke-width="0.9" fill="none"/><path d="M893.8,193.4 Q891.0,202.8 890.6,212.2" stroke="#d5c49c" stroke-width="0.9" fill="none"/><path d="M896.9,193.4 Q895.7,203.6 896.9,213.8" stroke="#d5c49c" stroke-width="0.9" fill="none"/><path d="M900.0,193.4 Q900.4,202.0 903.1,210.6" stroke="#d5c49c" stroke-width="0.9" fill="none"/><path d="M903.9,193.4 Q905.0,202.8 908.6,212.2" stroke="#d5c49c" stroke-width="0.9" fill="none"/><path d="M909.4,193.4 Q908.6,197.3 910.2,201.2" stroke="#d5c49c" stroke-width="0.9" fill="none"/><path d="M914.8,193.4 Q913.6,198.1 914.8,202.8" stroke="#d5c49c" stroke-width="0.9" fill="none"/><path d="M920.3,194.2 Q919.9,199.3 921.9,204.4" stroke="#d5c49c" stroke-width="0.9" fill="none"/><path d="M925.0,195.8 Q925.4,199.7 928.1,203.6" stroke="#d5c49c" stroke-width="0.9" fill="none"/>
<path d="M904.7,181.7 C906.6,179.6 913.2,180.2 916.4,180.2 C919.7,180.2 921.9,180.5 924.2,181.7 C926.6,182.9 928.5,185.0 930.5,187.2 C932.4,189.4 934.4,192.1 935.9,195.0 C937.5,197.9 940.1,202.6 939.8,204.4 C939.6,206.1 935.8,206.6 934.4,205.5 C932.9,204.5 932.6,200.1 931.2,198.1 C929.9,196.1 928.4,194.3 926.6,193.4 C924.7,192.5 922.7,192.7 920.3,192.7 C918.0,192.7 915.1,193.4 912.5,193.4 C909.9,193.4 906.0,194.6 904.7,192.7 C903.4,190.7 902.7,183.8 904.7,181.7 Z" fill="#e6d8b0"/>
<path d="M910.9,180.9 911.7,193.0 M917.2,180.3 918.0,192.7 M923.4,181.6 923.4,193.0 M928.9,185.6 927.3,194.2" stroke="#cfbf94" stroke-width="0.6" fill="none"/>
<path d="M868.0,182.5 C868.0,181.5 870.6,180.4 873.4,179.8 C876.3,179.1 881.2,178.8 885.2,178.8 C889.1,178.7 893.2,179.0 896.9,179.5 C900.5,180.0 905.2,179.5 907.0,181.7 C908.9,183.9 909.5,190.7 907.8,192.7 C906.1,194.6 900.7,193.8 896.9,193.4 C893.1,193.1 889.1,191.7 885.2,190.5 C881.2,189.2 876.3,187.3 873.4,186.0 C870.6,184.7 868.0,183.5 868.0,182.5 Z" fill="#dcc488"/>
<path d="M933.6,204.8 C934.8,203.1 938.7,202.1 939.8,203.6 C941.0,205.1 941.4,211.0 940.6,213.8 C939.8,216.5 936.5,220.0 935.2,220.0 C933.9,220.0 933.1,216.3 932.8,213.8 C932.6,211.2 932.4,206.5 933.6,204.8 Z" fill="#e2b068"/>
<circle cx="878.1" cy="182.9" r="1.2" fill="#2b2010"/>
</g>
<g id="eel">
<path d="M62.5,802.5 C63.6,801.2 67.3,798.9 70.8,797.4 C74.3,795.9 78.3,794.1 83.6,793.5 C89.0,793.0 96.4,793.7 102.8,794.2 C109.2,794.6 117.6,796.5 122.1,796.1 C126.5,795.7 125.5,792.9 129.7,791.6 C134.0,790.3 140.4,789.2 147.7,788.4 C154.9,787.7 165.8,786.9 173.3,787.1 C180.8,787.3 186.8,788.2 192.5,789.7 C198.3,791.2 204.1,793.5 207.9,796.1 C211.7,798.7 214.2,801.9 215.6,805.1 C217.0,808.3 216.9,812.1 216.2,815.3 C215.6,818.5 214.2,821.7 211.7,824.3 C209.3,826.8 205.8,829.4 201.5,830.7 C197.2,832.0 191.2,831.9 186.1,832.0 C181.0,832.1 174.6,831.6 170.7,831.3 C166.9,831.0 162.6,831.0 163.1,830.0 C163.5,829.1 169.0,826.7 173.3,825.6 C177.6,824.4 184.0,823.9 188.7,823.0 C193.4,822.1 198.5,821.9 201.5,820.4 C204.5,818.9 206.2,816.2 206.6,814.0 C207.0,811.9 206.2,809.2 204.1,807.6 C201.9,806.0 197.9,804.7 193.8,804.4 C189.8,804.1 184.8,805.0 179.7,805.7 C174.6,806.5 169.5,807.5 163.1,808.9 C156.7,810.3 148.1,813.0 141.3,814.0 C134.4,815.1 128.5,815.6 122.1,815.3 C115.7,815.0 108.8,813.1 102.8,812.1 C96.9,811.1 91.1,810.3 86.2,809.5 C81.3,808.8 77.0,808.4 73.4,807.6 C69.7,806.9 66.2,805.9 64.4,805.1 C62.6,804.2 61.4,803.8 62.5,802.5 Z" fill="url(#gEel)"/>
<path d="M88.7,799.3 C96.4,798.9 120.8,800.5 134.9,799.9 C149.0,799.4 161.6,796.1 173.3,796.1 C185.1,796.1 198.9,798.0 205.3,799.9 C211.7,801.9 211.7,807.2 211.7,807.6 C211.7,808.1 211.7,803.8 205.3,802.5 C198.9,801.2 185.1,799.7 173.3,799.9 C161.6,800.2 149.0,803.4 134.9,803.8 C120.8,804.2 96.4,803.2 88.7,802.5 C81.1,801.8 81.1,799.7 88.7,799.3 Z" fill="#7e7a48" opacity="0.45"/>
<ellipse cx="100.3" cy="805.1" rx="5.8" ry="3.4" fill="#8a854e"/>
<path d="M92.6,801.2 Q90.7,805.7 87.5,808.9" stroke="#8a8450" stroke-width="0.6" fill="none"/>
<circle cx="70.8" cy="801.2" r="1" fill="#2a2a1a"/>
</g>
<g id="crab">
<path d="M284.6,817.0 Q273.0,809.0 264.9,809.0" stroke="#6573a0" stroke-width="2.2" fill="none" stroke-linecap="round"/>
<path d="M340.4,817.0 Q352.0,809.0 360.1,809.0" stroke="#6573a0" stroke-width="2.2" fill="none" stroke-linecap="round"/>
<path d="M284.6,820.6 Q273.0,819.7 261.3,835.9" stroke="#6573a0" stroke-width="2.2" fill="none" stroke-linecap="round"/>
<path d="M340.4,820.6 Q352.0,819.7 363.7,835.9" stroke="#6573a0" stroke-width="2.2" fill="none" stroke-linecap="round"/>
<path d="M282.0,823.3 Q271.2,824.2 261.3,828.7" stroke="#6573a0" stroke-width="2.2" fill="none" stroke-linecap="round"/>
<path d="M343.1,823.3 Q353.8,824.2 363.7,828.7" stroke="#6573a0" stroke-width="2.2" fill="none" stroke-linecap="round"/>
<path d="M280.2,815.2 Q276.6,804.5 274.8,794.6" stroke="#6573a0" stroke-width="2.2" fill="none" stroke-linecap="round"/>
<path d="M344.8,815.2 Q348.4,804.5 350.2,794.6" stroke="#6573a0" stroke-width="2.2" fill="none" stroke-linecap="round"/>
<path d="M294.5,812.5 C294.2,811.1 291.5,807.8 289.1,806.3 C286.7,804.8 282.1,803.6 280.2,803.6 C278.2,803.6 277.2,804.9 277.5,806.3 C277.8,807.6 279.7,810.2 282.0,811.6 C284.2,813.1 288.8,815.1 290.9,815.2 C293.0,815.4 294.8,814.0 294.5,812.5 Z" fill="#6d54a6"/>
<path d="M277.5,805.4 C277.5,803.7 279.0,798.3 282.0,795.5 C284.9,792.6 291.7,789.7 295.4,788.3 C299.2,786.9 304.3,786.2 304.4,786.9 C304.6,787.7 296.3,792.2 296.3,792.8 C296.3,793.4 305.0,789.5 304.4,790.5 C303.8,791.6 296.5,796.6 292.7,799.1 C289.0,801.5 284.5,804.3 282.0,805.4 C279.4,806.4 277.5,807.0 277.5,805.4 Z" fill="#9a9488"/>
<path d="M292.7,789.2 L304.4,786.9 L297.2,791.9 L304.4,790.5 L296.3,794.6 Z" fill="#4d5680"/>
<path d="M295.4,826.9 C294.1,826.9 291.1,830.5 289.1,832.3 C287.2,834.1 284.5,835.6 283.8,837.7 C283.0,839.8 283.5,843.5 284.6,844.9 C285.8,846.2 289.6,846.7 290.9,845.8 C292.3,844.9 291.7,841.7 292.7,839.5 C293.8,837.3 296.8,834.4 297.2,832.3 C297.7,830.2 296.8,826.9 295.4,826.9 Z" fill="#7783a3"/>
<path d="M330.5,812.5 C330.8,811.1 333.5,807.8 335.9,806.3 C338.3,804.8 342.9,803.6 344.8,803.6 C346.8,803.6 347.8,804.9 347.5,806.3 C347.2,807.6 345.3,810.2 343.1,811.6 C340.8,813.1 336.2,815.1 334.1,815.2 C332.0,815.4 330.2,814.0 330.5,812.5 Z" fill="#6d54a6"/>
<path d="M347.5,805.4 C347.5,803.7 346.0,798.3 343.1,795.5 C340.1,792.6 333.3,789.7 329.6,788.3 C325.8,786.9 320.7,786.2 320.6,786.9 C320.4,787.7 328.7,792.2 328.7,792.8 C328.7,793.4 320.0,789.5 320.6,790.5 C321.2,791.6 328.5,796.6 332.3,799.1 C336.0,801.5 340.5,804.3 343.1,805.4 C345.6,806.4 347.5,807.0 347.5,805.4 Z" fill="#9a9488"/>
<path d="M332.3,789.2 L320.6,786.9 L327.8,791.9 L320.6,790.5 L328.7,794.6 Z" fill="#4d5680"/>
<path d="M329.6,826.9 C330.9,826.9 333.9,830.5 335.9,832.3 C337.8,834.1 340.5,835.6 341.3,837.7 C342.0,839.8 341.6,843.5 340.4,844.9 C339.2,846.2 335.4,846.7 334.1,845.8 C332.7,844.9 333.3,841.7 332.3,839.5 C331.2,837.3 328.2,834.4 327.8,832.3 C327.3,830.2 328.2,826.9 329.6,826.9 Z" fill="#7783a3"/>
<path d="M284.6,819.7 C284.9,816.7 289.9,811.5 292.7,809.0 C295.6,806.4 298.4,805.4 301.7,804.5 C305.0,803.5 308.9,803.1 312.5,803.1 C316.1,803.1 320.0,803.5 323.3,804.5 C326.6,805.4 329.0,806.4 332.3,809.0 C335.6,811.5 342.8,816.7 343.1,819.7 C343.3,822.7 337.1,825.2 334.1,826.9 C331.1,828.6 328.7,829.5 325.1,830.1 C321.5,830.7 316.7,830.5 312.5,830.5 C308.3,830.5 303.5,830.7 299.9,830.1 C296.3,829.5 293.5,828.6 290.9,826.9 C288.4,825.2 284.4,822.7 284.6,819.7 Z" fill="#9d7436"/>
<path d="M295.4,817.9 C295.4,815.4 300.7,810.8 303.5,809.0 C306.4,807.2 309.5,807.2 312.5,807.2 C315.5,807.2 318.6,807.2 321.5,809.0 C324.3,810.8 329.6,815.4 329.6,817.9 C329.6,820.5 324.3,822.9 321.5,824.2 C318.6,825.6 315.5,826.0 312.5,826.0 C309.5,826.0 306.4,825.6 303.5,824.2 C300.7,822.9 295.4,820.5 295.4,817.9 Z" fill="#a8803f" opacity="0.8"/>
</g>
<g id="stur">
<path d="M1034.0,803.9 C1034.2,801.8 1040.7,794.5 1043.0,794.9 C1045.4,795.3 1048.4,804.3 1048.2,806.5 C1048.0,808.6 1044.1,808.2 1041.7,807.8 C1039.4,807.4 1033.8,806.1 1034.0,803.9 Z" fill="#7f785a"/>
<path d="M963.1,819.4 C961.8,820.3 965.0,823.8 967.0,825.8 C968.9,827.9 972.2,830.2 974.7,831.6 C977.2,833.0 980.5,835.4 981.8,834.2 C983.1,833.0 983.6,826.9 982.4,824.5 C981.3,822.2 977.9,820.9 974.7,820.0 C971.5,819.2 964.4,818.4 963.1,819.4 Z" fill="#888164"/>
<path d="M1018.5,820.0 C1017.9,820.9 1023.1,824.4 1025.0,825.8 C1026.9,827.2 1029.5,829.3 1030.1,828.4 C1030.8,827.5 1030.8,822.1 1028.9,820.7 C1026.9,819.3 1019.2,819.2 1018.5,820.0 Z" fill="#8d866a"/>
<path d="M1037.9,818.1 C1037.2,819.2 1043.5,822.0 1045.6,823.2 C1047.8,824.5 1050.1,826.9 1050.8,825.8 C1051.4,824.8 1051.6,818.1 1049.5,816.8 C1047.3,815.5 1038.5,817.0 1037.9,818.1 Z" fill="#8d866a"/>
<path d="M924.2,815.8 C926.1,814.5 932.8,811.9 937.3,809.7 C941.9,807.5 947.4,804.8 951.5,802.6 C955.6,800.5 957.5,798.2 961.8,796.8 C966.1,795.4 971.7,794.5 977.3,794.2 C982.9,794.0 989.1,794.9 995.3,795.5 C1001.6,796.2 1008.7,796.9 1014.7,798.1 C1020.7,799.3 1026.1,801.1 1031.4,802.6 C1036.8,804.1 1042.6,806.2 1046.9,807.1 C1051.2,808.1 1056.4,807.5 1057.2,808.4 C1058.1,809.4 1054.8,811.6 1052.1,812.9 C1049.3,814.2 1044.5,815.1 1040.5,816.2 C1036.4,817.2 1032.9,818.4 1027.6,819.4 C1022.2,820.3 1014.7,821.3 1008.2,822.0 C1001.8,822.6 995.3,823.2 988.9,823.2 C982.4,823.2 974.9,822.4 969.6,822.0 C964.2,821.5 961.0,821.1 956.7,820.7 C952.4,820.2 947.6,819.8 943.8,819.4 C939.9,819.0 936.5,818.5 933.5,818.1 C930.5,817.7 927.3,817.4 925.7,817.1 C924.2,816.7 922.3,817.0 924.2,815.8 Z" fill="url(#gStur)"/>
<path d="M1054.6,808.2 C1066.2,801.3 1066.2,801.3 1079.8,786.5 C1072.7,801.3 1067.5,811.6 1067.5,811.6 C1069.5,819.4 1073.3,825.2 1073.3,825.2 C1059.8,816.8 1059.8,816.8 1052.1,812.7 Z" fill="#8a8366"/>
<path d="M961.8,806.5 L1046.9,809.7" stroke="#c2bb9c" stroke-width="2.2" stroke-dasharray="2.5,2" opacity="0.8"/>
<path d="M960.5,804.6 Q962.5,812.9 960.5,821.3" stroke="#8b846a" stroke-width="0.7" fill="none"/>
<path d="M930.9,819.4 L933.5,827.1 M934.8,819.4 L936.7,826.5" stroke="#d9d4c4" stroke-width="1"/>
<circle cx="940.6" cy="812.9" r="0.9" fill="#2a2618"/>
</g>
<g id="krill">
<path d="M-4,12 C-8,22 -10,30 -12,40 M0,11 C2,20 2,28 0,38 M-8,13 C-14,22 -18,30 -22,37 M3,9 C8,16 12,24 14,34 M-13,13 C-20,20 -26,26 -30,30 M6,7 C12,12 16,18 20,24 M-2,11 C-3,20 -5,30 -6,42 M1,10 C5,18 8,28 8,40 M-17,14 C-22,22 -24,28 -26,36" stroke="#dcc8aa" stroke-width="0.9" fill="none"/>
<path d="M-36,14 C-37,18 -39,22 -41,27 M-44,13.8 C-45,18 -47,22 -49,27 M-52,13.8 C-53,18 -55,22 -57,27 M-60,13.9 C-61,18 -63,22 -65,26 M-67,14.5 C-68,18 -70,22 -72,25 M-75,18 C-76,21 -78,24 -80,26" stroke="#e6d0b2" stroke-width="1.8" fill="none" stroke-linecap="round"/>
<path d="M10,-1 C20,-7 30,-12 38,-16 M10,0 C20,-2 30,-3 39,-3 M10,1 C20,3 28,5 36,7" stroke="#d9c9b0" stroke-width="0.7" fill="none"/>
<path d="M14,1.7 C8,-3.5 2,-5 -11,-4.5 C-20,-4 -28,-2 -34.6,-0.5 C-48,1 -58,1.5 -66,2.5 C-71,3.3 -74,4.5 -76.8,6.8 C-81,9 -84,11.5 -86,14.5 C-89,17.5 -91,20.5 -92.4,23.5 L-87.7,28.3 C-84,26 -81,23 -78.3,20.5 C-74,17 -70,15 -66,14.2 C-55,13.6 -45,13.6 -34.6,14 C-25,14.8 -18,15.8 -11,16.2 C-4,15.5 2,12 4.5,9.5 C8,7 12,4 14,1.7 Z" fill="url(#gKrill)" stroke="#e7ae80" stroke-width="0.4"/>
<path d="M-31,-3.8 C-20,-5.6 -8,-5.6 -2,-4 C3,1 3,10 -4,14 C-14,15.5 -24,16 -31,15.5 C-34,9 -34,2 -31,-3.8 Z" fill="#e5a868" opacity="0.5"/>
<path d="M-40,0 C-41,5 -41,9 -40,13.8 M-48,1 C-49,5 -49,9 -48,13.7 M-56,1.4 C-57,5 -57,9 -56,13.7 M-64,2.2 C-65,6 -65,10 -64,14.2 M-71,3.5 C-72,7 -73,11 -74,16.5 M-78,6 C-80,9 -81,14 -82,22 M-84,11 C-86,15 -87,20 -89,26" stroke="#e39a62" stroke-width="1.3" fill="none" opacity="0.6"/>
<path d="M-92.6,23 C-99,28 -100,40 -94,46.5 C-89,42 -87.5,34 -87.5,28.5 Z" fill="#e3703c"/>
<path d="M-92,27 C-94,32 -94,38 -92,42" stroke="#f0a070" stroke-width="1" fill="none"/>
<circle cx="0" cy="0" r="3.2" fill="#24201a"/>
</g>
</defs>
<use href="#bass" transform="translate(201,195) scale(0.991) translate(-411.7,-815.2)"/>
<use href="#salmon"/>
<use href="#shrimp"/>
<use href="#trout"/>
<use href="#bass"/>
<use href="#salmon" transform="translate(582.3,812.5) scale(0.99) translate(-491.5,-196.5)"/>
<use href="#shrimp" transform="translate(-67.9,611.8)"/>
<use href="#trout" transform="translate(1116,812.6) scale(1.0) translate(-1120,-197.1)"/>
<use href="#eel"/>
<use href="#crab"/>
<use href="#stur"/>
<use href="#krill" transform="translate(217,14.6)"/>
<use href="#krill" transform="translate(352.5,8.8)"/>
<use href="#krill" transform="translate(159.9,37.7)"/>
<use href="#krill" transform="translate(203.6,57)"/>
<use href="#krill" transform="translate(296.2,31.9)"/>
<use href="#krill" transform="translate(339.2,51.3)"/>
<use href="#krill" transform="translate(1094,11)"/>
<use href="#krill" transform="translate(1224,12.5)"/>
<use href="#krill" transform="translate(1036.5,34)"/>
<use href="#krill" transform="translate(1080,53.5)"/>
<use href="#krill" transform="translate(1166.5,36)"/>
<use href="#krill" transform="translate(1210,54)"/>
</svg>
</body></html>
